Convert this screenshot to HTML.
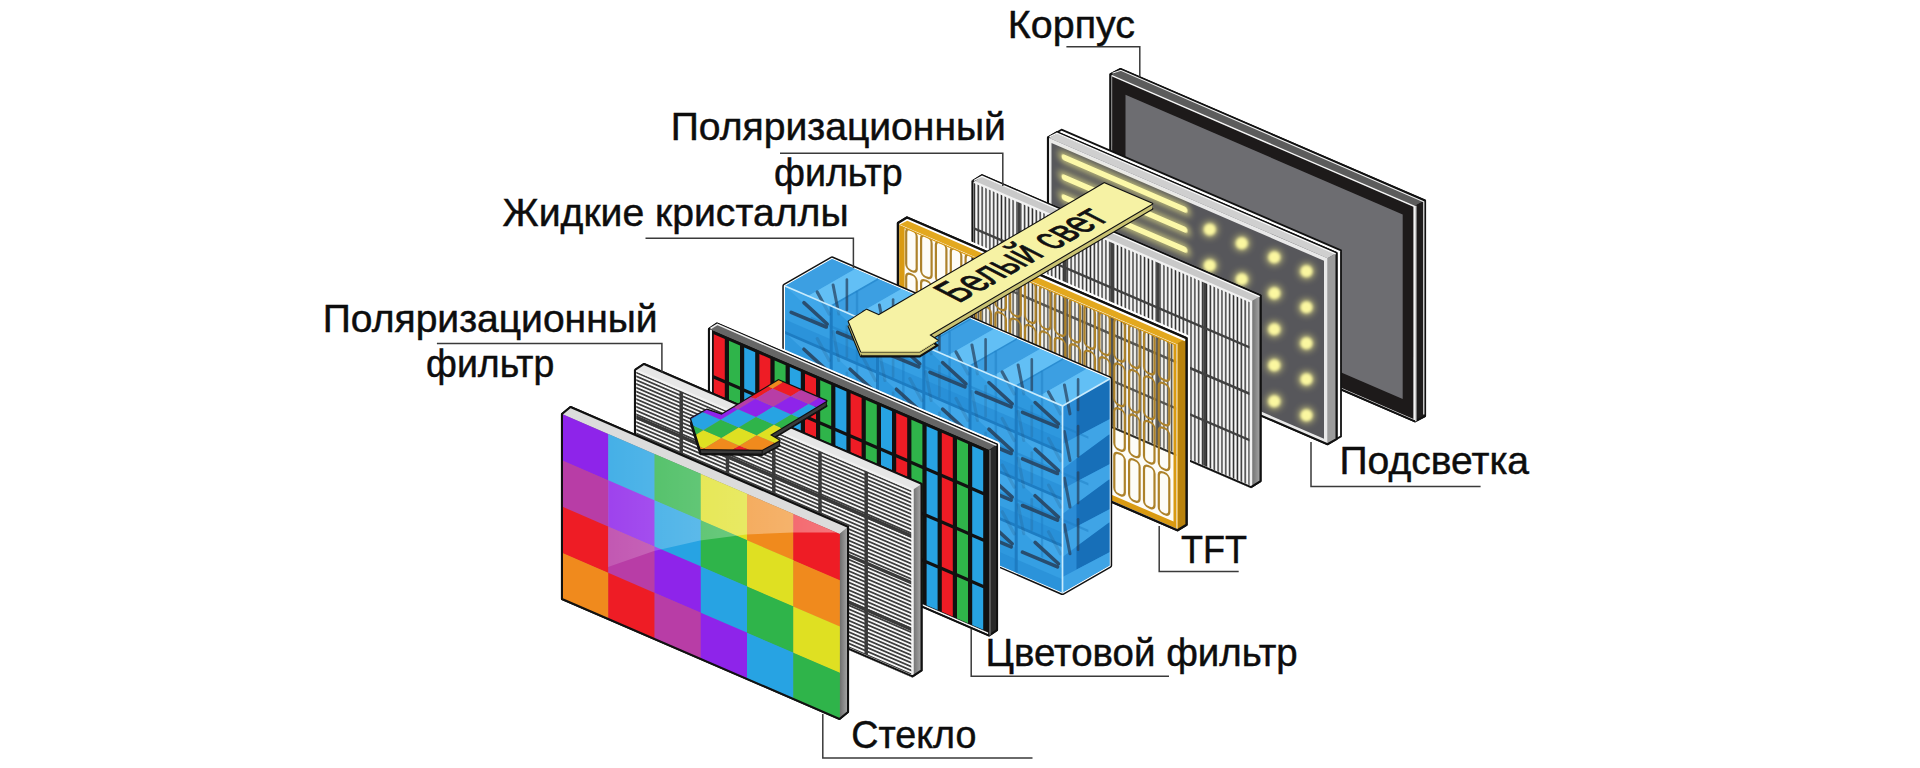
<!DOCTYPE html>
<html><head><meta charset="utf-8"><title>LCD</title>
<style>html,body{margin:0;padding:0;background:#fff;overflow:hidden}svg{display:block}text{font-family:"Liberation Sans",sans-serif}</style>
</head><body>
<svg width="1920" height="768" viewBox="0 0 1920 768">
<defs>
<filter id="glow" x="-50%" y="-50%" width="200%" height="200%"><feGaussianBlur stdDeviation="1.6"/></filter>
<filter id="glow05" x="-10%" y="-50%" width="120%" height="200%"><feGaussianBlur stdDeviation="0.7"/></filter>
<filter id="glow2" x="-50%" y="-50%" width="200%" height="200%"><feGaussianBlur stdDeviation="3"/></filter>
<linearGradient id="sideGray" x1="0" x2="1" y1="0" y2="0"><stop offset="0" stop-color="#6c6c6c"/><stop offset="1" stop-color="#a9a9a9"/></linearGradient>
<linearGradient id="glare" gradientUnits="userSpaceOnUse" x1="608" x2="838" y1="0" y2="0"><stop offset="0" stop-color="#fff" stop-opacity="0.14"/><stop offset="1" stop-color="#fff" stop-opacity="0.40"/></linearGradient>
<pattern id="hlines" width="10" height="3.8125" patternUnits="userSpaceOnUse"><rect width="10" height="3.8125" fill="#f6f6f6"/><rect y="1.1" width="10" height="1.6" fill="#1c1c1c"/></pattern>
<pattern id="vlines" width="3.868" height="10" patternUnits="userSpaceOnUse"><rect width="3.868" height="10" fill="#f7f7f7"/><rect x="1.2" width="1.4" height="10" fill="#262626"/></pattern>
<clipPath id="lcclip"><polygon points="785.0,472.5 785.0,286.0 832.0,259.0 1109.5,378.9 1109.5,565.4 1062.5,592.4"/></clipPath><clipPath id="lcfront"><polygon points="785.0,472.5 785.0,286.0 1062.5,405.9 1062.5,592.4"/></clipPath><clipPath id="lcts"><polygon points="785.0,286.0 832.0,259.0 1109.5,378.9 1109.5,565.4 1062.5,592.4 1062.5,405.9"/></clipPath><clipPath id="raclip"><polygon points="691.1,418.6 706.7,409.7 721.6,414.7 778.6,380.3 826.3,400.9 770.0,435.0 779.4,440.5 762.2,449.8 700.5,449.0"/></clipPath><clipPath id="glclip"><polygon points="562.0,414.0 839.5,533.9 839.5,718.9 562.0,599.0"/></clipPath></defs>
<rect width="1920" height="768" fill="#fff"/>
<polygon points="1110.5,289.8 1110.5,74.3 1120.5,69.1 1425.0,200.6 1425.0,416.1 1415.0,421.3" fill="#1d1a1a" stroke="#111" stroke-width="2.2" stroke-linejoin="round"/>
<polygon points="1110.5,74.3 1120.5,69.1 1425.0,200.6 1415.0,205.8" fill="#5c5c5c"/>
<polygon points="1415.0,205.8 1425.0,200.6 1425.0,416.1 1415.0,421.3" fill="#1e1c1c"/>
<g transform="matrix(1,0.432,0,1,1110.5,74.3)"><rect x="0" y="0" width="304.5" height="215.5" fill="#f4f4f4"/><rect x="1.6" y="1.6" width="301.3" height="212.3" fill="#1d1a1a"/><rect x="15" y="14" width="277.2" height="184.5" fill="#6d6d71"/></g>
<polygon points="1110.5,289.8 1110.5,74.3 1120.5,69.1 1425.0,200.6 1425.0,416.1 1415.0,421.3" fill="none" stroke="#111" stroke-width="2" stroke-linejoin="round"/>
<polyline points="1112.5,73.3 1120.8,70.3 1423.8,201.8 1423.8,414.6" fill="none" stroke="#f0f0f0" stroke-width="1.2"/>
<line x1="1415.8" y1="205.844" x2="1415.8" y2="421.344" stroke="#f0f0f0" stroke-width="1.3"/>
<polygon points="1057.0,132.3 1061.5,129.7 1341.0,250.4 1341.0,436.4 1336.5,439.0" fill="#fff" stroke="#111" stroke-width="1.8" stroke-linejoin="round"/>
<polygon points="1048.0,323.5 1048.0,137.5 1057.0,132.3 1336.5,253.0 1336.5,439.0 1327.5,444.2" fill="#57575b" stroke="#111" stroke-width="2.2" stroke-linejoin="round"/>
<polygon points="1048.0,137.5 1057.0,132.3 1336.5,253.0 1327.5,258.2" fill="#cfcfcf"/>
<polygon points="1327.5,258.2 1336.5,253.0 1336.5,439.0 1327.5,444.2" fill="#9c9c9c"/>
<g transform="matrix(1,0.432,0,1,1048,137.5)"><rect width="279.5" height="186" fill="#e9e9e9"/><rect x="3.5" y="4" width="272.5" height="178" fill="#57575b"/><rect x="10" y="7" width="133" height="12" rx="6" fill="#f3ee8a" opacity="0.6" filter="url(#glow2)"/><rect x="13.5" y="10" width="126" height="6" rx="3" fill="#fcf8a8" filter="url(#glow05)"/><rect x="10" y="27" width="133" height="12" rx="6" fill="#f3ee8a" opacity="0.6" filter="url(#glow2)"/><rect x="13.5" y="30" width="126" height="6" rx="3" fill="#fcf8a8" filter="url(#glow05)"/><rect x="10" y="47" width="133" height="12" rx="6" fill="#f3ee8a" opacity="0.6" filter="url(#glow2)"/><rect x="13.5" y="50" width="126" height="6" rx="3" fill="#fcf8a8" filter="url(#glow05)"/></g><circle cx="1209.8" cy="229.4" r="8.5" fill="#f3ee8a" opacity="0.55" filter="url(#glow2)"/><circle cx="1209.8" cy="229.4" r="6" fill="#fbf7a0" filter="url(#glow)"/><circle cx="1209.8" cy="265.4" r="8.5" fill="#f3ee8a" opacity="0.55" filter="url(#glow2)"/><circle cx="1209.8" cy="265.4" r="6" fill="#fbf7a0" filter="url(#glow)"/><circle cx="1209.8" cy="301.4" r="8.5" fill="#f3ee8a" opacity="0.55" filter="url(#glow2)"/><circle cx="1209.8" cy="301.4" r="6" fill="#fbf7a0" filter="url(#glow)"/><circle cx="1209.8" cy="337.4" r="8.5" fill="#f3ee8a" opacity="0.55" filter="url(#glow2)"/><circle cx="1209.8" cy="337.4" r="6" fill="#fbf7a0" filter="url(#glow)"/><circle cx="1209.8" cy="373.4" r="8.5" fill="#f3ee8a" opacity="0.55" filter="url(#glow2)"/><circle cx="1209.8" cy="373.4" r="6" fill="#fbf7a0" filter="url(#glow)"/><circle cx="1241.8" cy="243.2" r="8.5" fill="#f3ee8a" opacity="0.55" filter="url(#glow2)"/><circle cx="1241.8" cy="243.2" r="6" fill="#fbf7a0" filter="url(#glow)"/><circle cx="1241.8" cy="279.2" r="8.5" fill="#f3ee8a" opacity="0.55" filter="url(#glow2)"/><circle cx="1241.8" cy="279.2" r="6" fill="#fbf7a0" filter="url(#glow)"/><circle cx="1241.8" cy="315.2" r="8.5" fill="#f3ee8a" opacity="0.55" filter="url(#glow2)"/><circle cx="1241.8" cy="315.2" r="6" fill="#fbf7a0" filter="url(#glow)"/><circle cx="1241.8" cy="351.2" r="8.5" fill="#f3ee8a" opacity="0.55" filter="url(#glow2)"/><circle cx="1241.8" cy="351.2" r="6" fill="#fbf7a0" filter="url(#glow)"/><circle cx="1241.8" cy="387.2" r="8.5" fill="#f3ee8a" opacity="0.55" filter="url(#glow2)"/><circle cx="1241.8" cy="387.2" r="6" fill="#fbf7a0" filter="url(#glow)"/><circle cx="1274.3" cy="257.3" r="8.5" fill="#f3ee8a" opacity="0.55" filter="url(#glow2)"/><circle cx="1274.3" cy="257.3" r="6" fill="#fbf7a0" filter="url(#glow)"/><circle cx="1274.3" cy="293.3" r="8.5" fill="#f3ee8a" opacity="0.55" filter="url(#glow2)"/><circle cx="1274.3" cy="293.3" r="6" fill="#fbf7a0" filter="url(#glow)"/><circle cx="1274.3" cy="329.3" r="8.5" fill="#f3ee8a" opacity="0.55" filter="url(#glow2)"/><circle cx="1274.3" cy="329.3" r="6" fill="#fbf7a0" filter="url(#glow)"/><circle cx="1274.3" cy="365.3" r="8.5" fill="#f3ee8a" opacity="0.55" filter="url(#glow2)"/><circle cx="1274.3" cy="365.3" r="6" fill="#fbf7a0" filter="url(#glow)"/><circle cx="1274.3" cy="401.3" r="8.5" fill="#f3ee8a" opacity="0.55" filter="url(#glow2)"/><circle cx="1274.3" cy="401.3" r="6" fill="#fbf7a0" filter="url(#glow)"/><circle cx="1306.5" cy="271.2" r="8.5" fill="#f3ee8a" opacity="0.55" filter="url(#glow2)"/><circle cx="1306.5" cy="271.2" r="6" fill="#fbf7a0" filter="url(#glow)"/><circle cx="1306.5" cy="307.2" r="8.5" fill="#f3ee8a" opacity="0.55" filter="url(#glow2)"/><circle cx="1306.5" cy="307.2" r="6" fill="#fbf7a0" filter="url(#glow)"/><circle cx="1306.5" cy="343.2" r="8.5" fill="#f3ee8a" opacity="0.55" filter="url(#glow2)"/><circle cx="1306.5" cy="343.2" r="6" fill="#fbf7a0" filter="url(#glow)"/><circle cx="1306.5" cy="379.2" r="8.5" fill="#f3ee8a" opacity="0.55" filter="url(#glow2)"/><circle cx="1306.5" cy="379.2" r="6" fill="#fbf7a0" filter="url(#glow)"/><circle cx="1306.5" cy="415.2" r="8.5" fill="#f3ee8a" opacity="0.55" filter="url(#glow2)"/><circle cx="1306.5" cy="415.2" r="6" fill="#fbf7a0" filter="url(#glow)"/><g></g>
<polygon points="1048.0,323.5 1048.0,137.5 1057.0,132.3 1336.5,253.0 1336.5,439.0 1327.5,444.2" fill="none" stroke="#111" stroke-width="2" stroke-linejoin="round"/>
<polyline points="1049.5,136.9 1057.0,133.1 1335.7,253.8" fill="none" stroke="#fafafa" stroke-width="1.3"/>
<polygon points="972.5,366.8 972.5,181.3 982.0,175.3 1260.5,295.6 1260.5,481.1 1251.0,487.1" fill="#eee" stroke="#111" stroke-width="2.2" stroke-linejoin="round"/>
<polygon points="972.5,181.3 982.0,175.3 1260.5,295.6 1251.0,301.6" fill="#c9c9c9"/>
<polygon points="1251.0,301.6 1260.5,295.6 1260.5,481.1 1251.0,487.1" fill="url(#sideGray)"/>
<g transform="matrix(1,0.432,0,1,972.5,181.3)"><rect width="278.5" height="185.5" fill="url(#vlines)"/><line x1="46.4" y1="0" x2="46.4" y2="185.5" stroke="#404040" stroke-width="2.8"/><line x1="92.8" y1="0" x2="92.8" y2="185.5" stroke="#404040" stroke-width="2.8"/><line x1="139.2" y1="0" x2="139.2" y2="185.5" stroke="#404040" stroke-width="2.8"/><line x1="185.7" y1="0" x2="185.7" y2="185.5" stroke="#404040" stroke-width="2.8"/><line x1="232.1" y1="0" x2="232.1" y2="185.5" stroke="#404040" stroke-width="2.8"/><line x1="0" y1="46.4" x2="278.5" y2="46.4" stroke="#404040" stroke-width="2.6"/><line x1="0" y1="92.8" x2="278.5" y2="92.8" stroke="#404040" stroke-width="2.6"/><line x1="0" y1="139.1" x2="278.5" y2="139.1" stroke="#404040" stroke-width="2.6"/><rect width="278.5" height="185.5" fill="none" stroke="#f2f2f2" stroke-width="2.5"/></g>
<polygon points="972.5,366.8 972.5,181.3 982.0,175.3 1260.5,295.6 1260.5,481.1 1251.0,487.1" fill="none" stroke="#111" stroke-width="2" stroke-linejoin="round"/>
<polyline points="974.0,180.5 982.0,176.3 1259.7,296.6" fill="none" stroke="#fafafa" stroke-width="1.3"/>
<polygon points="898.0,409.5 898.0,223.0 907.0,217.5 1186.5,338.2 1186.5,524.7 1177.5,530.2" fill="none" stroke="#fff" stroke-width="7" stroke-linejoin="round"/>
<polygon points="898.0,409.5 898.0,223.0 907.0,217.5 1186.5,338.2 1186.5,524.7 1177.5,530.2" fill="none" stroke="#111" stroke-width="2.4" stroke-linejoin="round"/>
<g transform="matrix(1,0.432,0,1,898,223)"><rect x="0" y="0" width="279.5" height="186.5" fill="#f3e6c4" fill-opacity="0.13"/><rect x="8.2" y="1.0" width="10.5" height="41.1" rx="4.5" fill="none" stroke="#ad822a" stroke-width="2.2"/><rect x="23.1" y="1.0" width="10.5" height="41.1" rx="4.5" fill="none" stroke="#ad822a" stroke-width="2.2"/><rect x="37.9" y="1.0" width="10.5" height="41.1" rx="4.5" fill="none" stroke="#ad822a" stroke-width="2.2"/><rect x="52.8" y="1.0" width="10.5" height="41.1" rx="4.5" fill="none" stroke="#ad822a" stroke-width="2.2"/><rect x="67.6" y="1.0" width="10.5" height="41.1" rx="4.5" fill="none" stroke="#ad822a" stroke-width="2.2"/><rect x="82.5" y="1.0" width="10.5" height="41.1" rx="4.5" fill="none" stroke="#ad822a" stroke-width="2.2"/><rect x="97.4" y="1.0" width="10.5" height="41.1" rx="4.5" fill="none" stroke="#ad822a" stroke-width="2.2"/><rect x="112.2" y="1.0" width="10.5" height="41.1" rx="4.5" fill="none" stroke="#ad822a" stroke-width="2.2"/><rect x="127.1" y="1.0" width="10.5" height="41.1" rx="4.5" fill="none" stroke="#ad822a" stroke-width="2.2"/><rect x="141.9" y="1.0" width="10.5" height="41.1" rx="4.5" fill="none" stroke="#ad822a" stroke-width="2.2"/><rect x="156.8" y="1.0" width="10.5" height="41.1" rx="4.5" fill="none" stroke="#ad822a" stroke-width="2.2"/><rect x="171.7" y="1.0" width="10.5" height="41.1" rx="4.5" fill="none" stroke="#ad822a" stroke-width="2.2"/><rect x="186.5" y="1.0" width="10.5" height="41.1" rx="4.5" fill="none" stroke="#ad822a" stroke-width="2.2"/><rect x="201.4" y="1.0" width="10.5" height="41.1" rx="4.5" fill="none" stroke="#ad822a" stroke-width="2.2"/><rect x="216.3" y="1.0" width="10.5" height="41.1" rx="4.5" fill="none" stroke="#ad822a" stroke-width="2.2"/><rect x="231.1" y="1.0" width="10.5" height="41.1" rx="4.5" fill="none" stroke="#ad822a" stroke-width="2.2"/><rect x="246.0" y="1.0" width="10.5" height="41.1" rx="4.5" fill="none" stroke="#ad822a" stroke-width="2.2"/><rect x="260.8" y="1.0" width="10.5" height="41.1" rx="4.5" fill="none" stroke="#ad822a" stroke-width="2.2"/><rect x="8.2" y="45.6" width="10.5" height="41.1" rx="4.5" fill="none" stroke="#ad822a" stroke-width="2.2"/><rect x="23.1" y="45.6" width="10.5" height="41.1" rx="4.5" fill="none" stroke="#ad822a" stroke-width="2.2"/><rect x="37.9" y="45.6" width="10.5" height="41.1" rx="4.5" fill="none" stroke="#ad822a" stroke-width="2.2"/><rect x="52.8" y="45.6" width="10.5" height="41.1" rx="4.5" fill="none" stroke="#ad822a" stroke-width="2.2"/><rect x="67.6" y="45.6" width="10.5" height="41.1" rx="4.5" fill="none" stroke="#ad822a" stroke-width="2.2"/><rect x="82.5" y="45.6" width="10.5" height="41.1" rx="4.5" fill="none" stroke="#ad822a" stroke-width="2.2"/><rect x="97.4" y="45.6" width="10.5" height="41.1" rx="4.5" fill="none" stroke="#ad822a" stroke-width="2.2"/><rect x="112.2" y="45.6" width="10.5" height="41.1" rx="4.5" fill="none" stroke="#ad822a" stroke-width="2.2"/><rect x="127.1" y="45.6" width="10.5" height="41.1" rx="4.5" fill="none" stroke="#ad822a" stroke-width="2.2"/><rect x="141.9" y="45.6" width="10.5" height="41.1" rx="4.5" fill="none" stroke="#ad822a" stroke-width="2.2"/><rect x="156.8" y="45.6" width="10.5" height="41.1" rx="4.5" fill="none" stroke="#ad822a" stroke-width="2.2"/><rect x="171.7" y="45.6" width="10.5" height="41.1" rx="4.5" fill="none" stroke="#ad822a" stroke-width="2.2"/><rect x="186.5" y="45.6" width="10.5" height="41.1" rx="4.5" fill="none" stroke="#ad822a" stroke-width="2.2"/><rect x="201.4" y="45.6" width="10.5" height="41.1" rx="4.5" fill="none" stroke="#ad822a" stroke-width="2.2"/><rect x="216.3" y="45.6" width="10.5" height="41.1" rx="4.5" fill="none" stroke="#ad822a" stroke-width="2.2"/><rect x="231.1" y="45.6" width="10.5" height="41.1" rx="4.5" fill="none" stroke="#ad822a" stroke-width="2.2"/><rect x="246.0" y="45.6" width="10.5" height="41.1" rx="4.5" fill="none" stroke="#ad822a" stroke-width="2.2"/><rect x="260.8" y="45.6" width="10.5" height="41.1" rx="4.5" fill="none" stroke="#ad822a" stroke-width="2.2"/><rect x="8.2" y="90.2" width="10.5" height="41.1" rx="4.5" fill="none" stroke="#ad822a" stroke-width="2.2"/><rect x="23.1" y="90.2" width="10.5" height="41.1" rx="4.5" fill="none" stroke="#ad822a" stroke-width="2.2"/><rect x="37.9" y="90.2" width="10.5" height="41.1" rx="4.5" fill="none" stroke="#ad822a" stroke-width="2.2"/><rect x="52.8" y="90.2" width="10.5" height="41.1" rx="4.5" fill="none" stroke="#ad822a" stroke-width="2.2"/><rect x="67.6" y="90.2" width="10.5" height="41.1" rx="4.5" fill="none" stroke="#ad822a" stroke-width="2.2"/><rect x="82.5" y="90.2" width="10.5" height="41.1" rx="4.5" fill="none" stroke="#ad822a" stroke-width="2.2"/><rect x="97.4" y="90.2" width="10.5" height="41.1" rx="4.5" fill="none" stroke="#ad822a" stroke-width="2.2"/><rect x="112.2" y="90.2" width="10.5" height="41.1" rx="4.5" fill="none" stroke="#ad822a" stroke-width="2.2"/><rect x="127.1" y="90.2" width="10.5" height="41.1" rx="4.5" fill="none" stroke="#ad822a" stroke-width="2.2"/><rect x="141.9" y="90.2" width="10.5" height="41.1" rx="4.5" fill="none" stroke="#ad822a" stroke-width="2.2"/><rect x="156.8" y="90.2" width="10.5" height="41.1" rx="4.5" fill="none" stroke="#ad822a" stroke-width="2.2"/><rect x="171.7" y="90.2" width="10.5" height="41.1" rx="4.5" fill="none" stroke="#ad822a" stroke-width="2.2"/><rect x="186.5" y="90.2" width="10.5" height="41.1" rx="4.5" fill="none" stroke="#ad822a" stroke-width="2.2"/><rect x="201.4" y="90.2" width="10.5" height="41.1" rx="4.5" fill="none" stroke="#ad822a" stroke-width="2.2"/><rect x="216.3" y="90.2" width="10.5" height="41.1" rx="4.5" fill="none" stroke="#ad822a" stroke-width="2.2"/><rect x="231.1" y="90.2" width="10.5" height="41.1" rx="4.5" fill="none" stroke="#ad822a" stroke-width="2.2"/><rect x="246.0" y="90.2" width="10.5" height="41.1" rx="4.5" fill="none" stroke="#ad822a" stroke-width="2.2"/><rect x="260.8" y="90.2" width="10.5" height="41.1" rx="4.5" fill="none" stroke="#ad822a" stroke-width="2.2"/><rect x="8.2" y="134.9" width="10.5" height="41.1" rx="4.5" fill="none" stroke="#ad822a" stroke-width="2.2"/><rect x="23.1" y="134.9" width="10.5" height="41.1" rx="4.5" fill="none" stroke="#ad822a" stroke-width="2.2"/><rect x="37.9" y="134.9" width="10.5" height="41.1" rx="4.5" fill="none" stroke="#ad822a" stroke-width="2.2"/><rect x="52.8" y="134.9" width="10.5" height="41.1" rx="4.5" fill="none" stroke="#ad822a" stroke-width="2.2"/><rect x="67.6" y="134.9" width="10.5" height="41.1" rx="4.5" fill="none" stroke="#ad822a" stroke-width="2.2"/><rect x="82.5" y="134.9" width="10.5" height="41.1" rx="4.5" fill="none" stroke="#ad822a" stroke-width="2.2"/><rect x="97.4" y="134.9" width="10.5" height="41.1" rx="4.5" fill="none" stroke="#ad822a" stroke-width="2.2"/><rect x="112.2" y="134.9" width="10.5" height="41.1" rx="4.5" fill="none" stroke="#ad822a" stroke-width="2.2"/><rect x="127.1" y="134.9" width="10.5" height="41.1" rx="4.5" fill="none" stroke="#ad822a" stroke-width="2.2"/><rect x="141.9" y="134.9" width="10.5" height="41.1" rx="4.5" fill="none" stroke="#ad822a" stroke-width="2.2"/><rect x="156.8" y="134.9" width="10.5" height="41.1" rx="4.5" fill="none" stroke="#ad822a" stroke-width="2.2"/><rect x="171.7" y="134.9" width="10.5" height="41.1" rx="4.5" fill="none" stroke="#ad822a" stroke-width="2.2"/><rect x="186.5" y="134.9" width="10.5" height="41.1" rx="4.5" fill="none" stroke="#ad822a" stroke-width="2.2"/><rect x="201.4" y="134.9" width="10.5" height="41.1" rx="4.5" fill="none" stroke="#ad822a" stroke-width="2.2"/><rect x="216.3" y="134.9" width="10.5" height="41.1" rx="4.5" fill="none" stroke="#ad822a" stroke-width="2.2"/><rect x="231.1" y="134.9" width="10.5" height="41.1" rx="4.5" fill="none" stroke="#ad822a" stroke-width="2.2"/><rect x="246.0" y="134.9" width="10.5" height="41.1" rx="4.5" fill="none" stroke="#ad822a" stroke-width="2.2"/><rect x="260.8" y="134.9" width="10.5" height="41.1" rx="4.5" fill="none" stroke="#ad822a" stroke-width="2.2"/><rect x="1" y="1" width="5.6" height="184.5" fill="#d99a12"/><rect x="275.5" y="1" width="3" height="184.5" fill="#d99a12"/><rect x="1" y="179.5" width="277.5" height="6" fill="#d99a12"/><rect x="1" y="1" width="277.5" height="1.6" fill="#d99a12"/><rect x="0.6" y="0.6" width="278.3" height="185.3" fill="none" stroke="#fff" stroke-width="1.2"/></g>
<polygon points="898.0,223.8 907.0,217.5 1186.5,338.2 1177.5,344.5" fill="#e3a81e"/>
<polygon points="1176.7,343.7 1186.5,338.2 1186.5,524.7 1176.7,530.2" fill="#b9820c"/>
<line x1="1177.5" y1="343.744" x2="1177.5" y2="530.244" stroke="#f0c050" stroke-width="1"/>
<polyline points="899.2,223.3 907.3,219.5 1185.5,340.2" fill="none" stroke="#fff" stroke-width="2.4"/>
<polygon points="898.0,409.5 898.0,223.0 907.0,217.5 1186.5,338.2 1186.5,524.7 1177.5,530.2" fill="none" stroke="#111" stroke-width="2.2" stroke-linejoin="round"/>
<polygon points="785.0,472.5 785.0,286.0 832.0,259.0 1109.5,378.9 1109.5,565.4 1062.5,592.4" fill="#2f9be0" stroke="#111" stroke-width="5.4" stroke-linejoin="round"/>
<polygon points="785.0,472.5 785.0,286.0 832.0,259.0 1109.5,378.9 1109.5,565.4 1062.5,592.4" fill="#2f9be0" stroke="#fff" stroke-width="2.4" stroke-linejoin="round"/>
<polygon points="785.0,286.0 832.0,259.0 1109.5,378.9 1062.5,405.9" fill="#4fb2ee"/>
<polygon points="785.0,286.0 832.0,259.0 855.1,269.0 808.1,296.0" fill="#3c9fe2"/>
<polygon points="808.1,296.0 855.1,269.0 878.2,279.0 831.2,306.0" fill="#62bff5"/>
<polygon points="831.2,306.0 878.2,279.0 901.4,289.0 854.4,316.0" fill="#3c9fe2"/>
<polygon points="854.4,316.0 901.4,289.0 924.5,299.0 877.5,326.0" fill="#62bff5"/>
<polygon points="877.5,326.0 924.5,299.0 947.6,308.9 900.6,335.9" fill="#3c9fe2"/>
<polygon points="900.6,335.9 947.6,308.9 970.8,318.9 923.8,345.9" fill="#62bff5"/>
<polygon points="923.8,345.9 970.8,318.9 993.9,328.9 946.9,355.9" fill="#3c9fe2"/>
<polygon points="946.9,355.9 993.9,328.9 1017.0,338.9 970.0,365.9" fill="#62bff5"/>
<polygon points="970.0,365.9 1017.0,338.9 1040.1,348.9 993.1,375.9" fill="#3c9fe2"/>
<polygon points="993.1,375.9 1040.1,348.9 1063.2,358.9 1016.2,385.9" fill="#62bff5"/>
<polygon points="1016.2,385.9 1063.2,358.9 1086.4,368.9 1039.4,395.9" fill="#3c9fe2"/>
<polygon points="1039.4,395.9 1086.4,368.9 1109.5,378.9 1062.5,405.9" fill="#62bff5"/>
<line x1="831.2" y1="306.0" x2="878.2" y2="279.0" stroke="#2a8dd2" stroke-width="1.6"/>
<line x1="877.5" y1="326.0" x2="924.5" y2="299.0" stroke="#2a8dd2" stroke-width="1.6"/>
<line x1="923.8" y1="345.9" x2="970.8" y2="318.9" stroke="#2a8dd2" stroke-width="1.6"/>
<line x1="970.0" y1="365.9" x2="1017.0" y2="338.9" stroke="#2a8dd2" stroke-width="1.6"/>
<line x1="1016.2" y1="385.9" x2="1063.2" y2="358.9" stroke="#2a8dd2" stroke-width="1.6"/>
<polygon points="1062.5,405.9 1109.5,378.9 1109.5,565.4 1062.5,592.4" fill="#2a8cd6"/>
<polygon points="1076.5,397.8 1109.5,378.9 1109.5,419.3 1076.5,436.6" fill="#176fb8"/>
<polygon points="1062.5,443.9 1109.5,419.3 1109.5,434.3 1062.5,468.9" fill="#3fa4e6"/>
<polygon points="1076.5,458.6 1109.5,434.3 1109.5,464.3 1076.5,481.6" fill="#176fb8"/>
<polygon points="1062.5,488.9 1109.5,464.3 1109.5,479.3 1062.5,513.9" fill="#3fa4e6"/>
<polygon points="1076.5,503.6 1109.5,479.3 1109.5,509.3 1076.5,526.6" fill="#176fb8"/>
<polygon points="1062.5,533.9 1109.5,509.3 1109.5,522.3 1062.5,556.9" fill="#3fa4e6"/>
<polygon points="1076.5,546.6 1109.5,522.3 1109.5,552.3 1076.5,569.6" fill="#176fb8"/>
<polygon points="1062.5,576.9 1109.5,552.3 1109.5,565.4 1062.5,592.4" fill="#3fa4e6"/>
<g transform="matrix(1,0.432,0,1,785,286)"><rect x="0.0" y="0.0" width="46.5" height="46.9" fill="#359fe3"/><polygon points="0.0,0.0 46.2,0.0 46.2,23.3" fill="#4db1ef" opacity="0.45"/><rect x="0.0" y="33.6" width="46.2" height="13.1" fill="#2287d2" opacity="0.5"/><rect x="46.2" y="0.0" width="46.5" height="46.9" fill="#2e98de"/><polygon points="46.2,0.0 92.5,0.0 92.5,23.3" fill="#4db1ef" opacity="0.45"/><rect x="46.2" y="33.6" width="46.2" height="13.1" fill="#2287d2" opacity="0.5"/><rect x="92.5" y="0.0" width="46.5" height="46.9" fill="#359fe3"/><polygon points="92.5,0.0 138.8,0.0 138.8,23.3" fill="#4db1ef" opacity="0.45"/><rect x="92.5" y="33.6" width="46.2" height="13.1" fill="#2287d2" opacity="0.5"/><rect x="138.8" y="0.0" width="46.5" height="46.9" fill="#2e98de"/><polygon points="138.8,0.0 185.0,0.0 185.0,23.3" fill="#4db1ef" opacity="0.45"/><rect x="138.8" y="33.6" width="46.2" height="13.1" fill="#2287d2" opacity="0.5"/><rect x="185.0" y="0.0" width="46.5" height="46.9" fill="#359fe3"/><polygon points="185.0,0.0 231.2,0.0 231.2,23.3" fill="#4db1ef" opacity="0.45"/><rect x="185.0" y="33.6" width="46.2" height="13.1" fill="#2287d2" opacity="0.5"/><rect x="231.2" y="0.0" width="46.5" height="46.9" fill="#2e98de"/><polygon points="231.2,0.0 277.5,0.0 277.5,23.3" fill="#4db1ef" opacity="0.45"/><rect x="231.2" y="33.6" width="46.2" height="13.1" fill="#2287d2" opacity="0.5"/><rect x="0.0" y="46.6" width="46.5" height="46.9" fill="#2e98de"/><polygon points="0.0,46.6 46.2,46.6 46.2,69.9" fill="#4db1ef" opacity="0.45"/><rect x="0.0" y="80.2" width="46.2" height="13.1" fill="#2287d2" opacity="0.5"/><rect x="46.2" y="46.6" width="46.5" height="46.9" fill="#359fe3"/><polygon points="46.2,46.6 92.5,46.6 92.5,69.9" fill="#4db1ef" opacity="0.45"/><rect x="46.2" y="80.2" width="46.2" height="13.1" fill="#2287d2" opacity="0.5"/><rect x="92.5" y="46.6" width="46.5" height="46.9" fill="#2e98de"/><polygon points="92.5,46.6 138.8,46.6 138.8,69.9" fill="#4db1ef" opacity="0.45"/><rect x="92.5" y="80.2" width="46.2" height="13.1" fill="#2287d2" opacity="0.5"/><rect x="138.8" y="46.6" width="46.5" height="46.9" fill="#359fe3"/><polygon points="138.8,46.6 185.0,46.6 185.0,69.9" fill="#4db1ef" opacity="0.45"/><rect x="138.8" y="80.2" width="46.2" height="13.1" fill="#2287d2" opacity="0.5"/><rect x="185.0" y="46.6" width="46.5" height="46.9" fill="#2e98de"/><polygon points="185.0,46.6 231.2,46.6 231.2,69.9" fill="#4db1ef" opacity="0.45"/><rect x="185.0" y="80.2" width="46.2" height="13.1" fill="#2287d2" opacity="0.5"/><rect x="231.2" y="46.6" width="46.5" height="46.9" fill="#359fe3"/><polygon points="231.2,46.6 277.5,46.6 277.5,69.9" fill="#4db1ef" opacity="0.45"/><rect x="231.2" y="80.2" width="46.2" height="13.1" fill="#2287d2" opacity="0.5"/><rect x="0.0" y="93.2" width="46.5" height="46.9" fill="#359fe3"/><polygon points="0.0,93.2 46.2,93.2 46.2,116.6" fill="#4db1ef" opacity="0.45"/><rect x="0.0" y="126.8" width="46.2" height="13.1" fill="#2287d2" opacity="0.5"/><rect x="46.2" y="93.2" width="46.5" height="46.9" fill="#2e98de"/><polygon points="46.2,93.2 92.5,93.2 92.5,116.6" fill="#4db1ef" opacity="0.45"/><rect x="46.2" y="126.8" width="46.2" height="13.1" fill="#2287d2" opacity="0.5"/><rect x="92.5" y="93.2" width="46.5" height="46.9" fill="#359fe3"/><polygon points="92.5,93.2 138.8,93.2 138.8,116.6" fill="#4db1ef" opacity="0.45"/><rect x="92.5" y="126.8" width="46.2" height="13.1" fill="#2287d2" opacity="0.5"/><rect x="138.8" y="93.2" width="46.5" height="46.9" fill="#2e98de"/><polygon points="138.8,93.2 185.0,93.2 185.0,116.6" fill="#4db1ef" opacity="0.45"/><rect x="138.8" y="126.8" width="46.2" height="13.1" fill="#2287d2" opacity="0.5"/><rect x="185.0" y="93.2" width="46.5" height="46.9" fill="#359fe3"/><polygon points="185.0,93.2 231.2,93.2 231.2,116.6" fill="#4db1ef" opacity="0.45"/><rect x="185.0" y="126.8" width="46.2" height="13.1" fill="#2287d2" opacity="0.5"/><rect x="231.2" y="93.2" width="46.5" height="46.9" fill="#2e98de"/><polygon points="231.2,93.2 277.5,93.2 277.5,116.6" fill="#4db1ef" opacity="0.45"/><rect x="231.2" y="126.8" width="46.2" height="13.1" fill="#2287d2" opacity="0.5"/><rect x="0.0" y="139.9" width="46.5" height="46.9" fill="#2e98de"/><polygon points="0.0,139.9 46.2,139.9 46.2,163.2" fill="#4db1ef" opacity="0.45"/><rect x="0.0" y="173.4" width="46.2" height="13.1" fill="#2287d2" opacity="0.5"/><rect x="46.2" y="139.9" width="46.5" height="46.9" fill="#359fe3"/><polygon points="46.2,139.9 92.5,139.9 92.5,163.2" fill="#4db1ef" opacity="0.45"/><rect x="46.2" y="173.4" width="46.2" height="13.1" fill="#2287d2" opacity="0.5"/><rect x="92.5" y="139.9" width="46.5" height="46.9" fill="#2e98de"/><polygon points="92.5,139.9 138.8,139.9 138.8,163.2" fill="#4db1ef" opacity="0.45"/><rect x="92.5" y="173.4" width="46.2" height="13.1" fill="#2287d2" opacity="0.5"/><rect x="138.8" y="139.9" width="46.5" height="46.9" fill="#359fe3"/><polygon points="138.8,139.9 185.0,139.9 185.0,163.2" fill="#4db1ef" opacity="0.45"/><rect x="138.8" y="173.4" width="46.2" height="13.1" fill="#2287d2" opacity="0.5"/><rect x="185.0" y="139.9" width="46.5" height="46.9" fill="#2e98de"/><polygon points="185.0,139.9 231.2,139.9 231.2,163.2" fill="#4db1ef" opacity="0.45"/><rect x="185.0" y="173.4" width="46.2" height="13.1" fill="#2287d2" opacity="0.5"/><rect x="231.2" y="139.9" width="46.5" height="46.9" fill="#359fe3"/><polygon points="231.2,139.9 277.5,139.9 277.5,163.2" fill="#4db1ef" opacity="0.45"/><rect x="231.2" y="173.4" width="46.2" height="13.1" fill="#2287d2" opacity="0.5"/><line x1="46.2" y1="0" x2="46.2" y2="186.5" stroke="#1d7cc2" stroke-width="3"/><line x1="92.5" y1="0" x2="92.5" y2="186.5" stroke="#1d7cc2" stroke-width="3"/><line x1="138.8" y1="0" x2="138.8" y2="186.5" stroke="#1d7cc2" stroke-width="3"/><line x1="185.0" y1="0" x2="185.0" y2="186.5" stroke="#1d7cc2" stroke-width="3"/><line x1="231.2" y1="0" x2="231.2" y2="186.5" stroke="#1d7cc2" stroke-width="3"/><line x1="0" y1="46.6" x2="277.5" y2="46.6" stroke="#1d7cc2" stroke-width="3"/><line x1="0" y1="93.2" x2="277.5" y2="93.2" stroke="#1d7cc2" stroke-width="3"/><line x1="0" y1="139.9" x2="277.5" y2="139.9" stroke="#1d7cc2" stroke-width="3"/></g>
<g clip-path="url(#lcclip)"><g transform="matrix(1,0.432,0,1,810.85,271.15)"><line x1="46.2" y1="0" x2="46.2" y2="186.5" stroke="#1d7cc2" stroke-width="2.4" opacity="0.45"/><line x1="92.5" y1="0" x2="92.5" y2="186.5" stroke="#1d7cc2" stroke-width="2.4" opacity="0.45"/><line x1="138.8" y1="0" x2="138.8" y2="186.5" stroke="#1d7cc2" stroke-width="2.4" opacity="0.45"/><line x1="185.0" y1="0" x2="185.0" y2="186.5" stroke="#1d7cc2" stroke-width="2.4" opacity="0.45"/><line x1="231.2" y1="0" x2="231.2" y2="186.5" stroke="#1d7cc2" stroke-width="2.4" opacity="0.45"/><line x1="0" y1="46.6" x2="277.5" y2="46.6" stroke="#1d7cc2" stroke-width="2.4" opacity="0.45"/><line x1="0" y1="93.2" x2="277.5" y2="93.2" stroke="#1d7cc2" stroke-width="2.4" opacity="0.45"/><line x1="0" y1="139.9" x2="277.5" y2="139.9" stroke="#1d7cc2" stroke-width="2.4" opacity="0.45"/></g></g>
<g clip-path="url(#lcclip)" opacity="0.88"><line x1="826.2" y1="327.0" x2="791.2" y2="312.4" stroke="#27425f" stroke-width="3.6" stroke-linecap="round"/><line x1="827.2" y1="324.0" x2="803.9" y2="302.6" stroke="#27425f" stroke-width="3.5" stroke-linecap="round"/><line x1="872.5" y1="347.0" x2="837.5" y2="332.4" stroke="#27425f" stroke-width="3.6" stroke-linecap="round"/><line x1="873.5" y1="344.0" x2="850.1" y2="322.6" stroke="#27425f" stroke-width="3.5" stroke-linecap="round"/><line x1="918.8" y1="366.9" x2="883.8" y2="352.3" stroke="#27425f" stroke-width="3.6" stroke-linecap="round"/><line x1="919.8" y1="363.9" x2="896.4" y2="342.5" stroke="#27425f" stroke-width="3.5" stroke-linecap="round"/><line x1="965.0" y1="386.9" x2="930.0" y2="372.3" stroke="#27425f" stroke-width="3.6" stroke-linecap="round"/><line x1="966.0" y1="383.9" x2="942.6" y2="362.5" stroke="#27425f" stroke-width="3.5" stroke-linecap="round"/><line x1="1011.2" y1="406.9" x2="976.2" y2="392.3" stroke="#27425f" stroke-width="3.6" stroke-linecap="round"/><line x1="1012.2" y1="403.9" x2="988.9" y2="382.5" stroke="#27425f" stroke-width="3.5" stroke-linecap="round"/><line x1="1057.5" y1="426.9" x2="1022.5" y2="412.3" stroke="#27425f" stroke-width="3.6" stroke-linecap="round"/><line x1="1058.5" y1="423.9" x2="1035.1" y2="402.5" stroke="#27425f" stroke-width="3.5" stroke-linecap="round"/><line x1="826.2" y1="373.6" x2="791.2" y2="359.0" stroke="#27425f" stroke-width="3.6" stroke-linecap="round"/><line x1="827.2" y1="370.6" x2="803.9" y2="349.2" stroke="#27425f" stroke-width="3.5" stroke-linecap="round"/><line x1="872.5" y1="393.6" x2="837.5" y2="379.0" stroke="#27425f" stroke-width="3.6" stroke-linecap="round"/><line x1="873.5" y1="390.6" x2="850.1" y2="369.2" stroke="#27425f" stroke-width="3.5" stroke-linecap="round"/><line x1="918.8" y1="413.6" x2="883.8" y2="399.0" stroke="#27425f" stroke-width="3.6" stroke-linecap="round"/><line x1="919.8" y1="410.6" x2="896.4" y2="389.2" stroke="#27425f" stroke-width="3.5" stroke-linecap="round"/><line x1="965.0" y1="433.5" x2="930.0" y2="418.9" stroke="#27425f" stroke-width="3.6" stroke-linecap="round"/><line x1="966.0" y1="430.5" x2="942.6" y2="409.1" stroke="#27425f" stroke-width="3.5" stroke-linecap="round"/><line x1="1011.2" y1="453.5" x2="976.2" y2="438.9" stroke="#27425f" stroke-width="3.6" stroke-linecap="round"/><line x1="1012.2" y1="450.5" x2="988.9" y2="429.1" stroke="#27425f" stroke-width="3.5" stroke-linecap="round"/><line x1="1057.5" y1="473.5" x2="1022.5" y2="458.9" stroke="#27425f" stroke-width="3.6" stroke-linecap="round"/><line x1="1058.5" y1="470.5" x2="1035.1" y2="449.1" stroke="#27425f" stroke-width="3.5" stroke-linecap="round"/><line x1="826.2" y1="420.2" x2="791.2" y2="405.6" stroke="#27425f" stroke-width="3.6" stroke-linecap="round"/><line x1="827.2" y1="417.2" x2="803.9" y2="395.8" stroke="#27425f" stroke-width="3.5" stroke-linecap="round"/><line x1="872.5" y1="440.2" x2="837.5" y2="425.6" stroke="#27425f" stroke-width="3.6" stroke-linecap="round"/><line x1="873.5" y1="437.2" x2="850.1" y2="415.8" stroke="#27425f" stroke-width="3.5" stroke-linecap="round"/><line x1="918.8" y1="460.2" x2="883.8" y2="445.6" stroke="#27425f" stroke-width="3.6" stroke-linecap="round"/><line x1="919.8" y1="457.2" x2="896.4" y2="435.8" stroke="#27425f" stroke-width="3.5" stroke-linecap="round"/><line x1="965.0" y1="480.2" x2="930.0" y2="465.6" stroke="#27425f" stroke-width="3.6" stroke-linecap="round"/><line x1="966.0" y1="477.2" x2="942.6" y2="455.8" stroke="#27425f" stroke-width="3.5" stroke-linecap="round"/><line x1="1011.2" y1="500.1" x2="976.2" y2="485.5" stroke="#27425f" stroke-width="3.6" stroke-linecap="round"/><line x1="1012.2" y1="497.1" x2="988.9" y2="475.8" stroke="#27425f" stroke-width="3.5" stroke-linecap="round"/><line x1="1057.5" y1="520.1" x2="1022.5" y2="505.5" stroke="#27425f" stroke-width="3.6" stroke-linecap="round"/><line x1="1058.5" y1="517.1" x2="1035.1" y2="495.7" stroke="#27425f" stroke-width="3.5" stroke-linecap="round"/><line x1="826.2" y1="466.9" x2="791.2" y2="452.3" stroke="#27425f" stroke-width="3.6" stroke-linecap="round"/><line x1="827.2" y1="463.9" x2="803.9" y2="442.5" stroke="#27425f" stroke-width="3.5" stroke-linecap="round"/><line x1="872.5" y1="486.8" x2="837.5" y2="472.2" stroke="#27425f" stroke-width="3.6" stroke-linecap="round"/><line x1="873.5" y1="483.8" x2="850.1" y2="462.4" stroke="#27425f" stroke-width="3.5" stroke-linecap="round"/><line x1="918.8" y1="506.8" x2="883.8" y2="492.2" stroke="#27425f" stroke-width="3.6" stroke-linecap="round"/><line x1="919.8" y1="503.8" x2="896.4" y2="482.4" stroke="#27425f" stroke-width="3.5" stroke-linecap="round"/><line x1="965.0" y1="526.8" x2="930.0" y2="512.2" stroke="#27425f" stroke-width="3.6" stroke-linecap="round"/><line x1="966.0" y1="523.8" x2="942.6" y2="502.4" stroke="#27425f" stroke-width="3.5" stroke-linecap="round"/><line x1="1011.2" y1="546.8" x2="976.2" y2="532.2" stroke="#27425f" stroke-width="3.6" stroke-linecap="round"/><line x1="1012.2" y1="543.8" x2="988.9" y2="522.4" stroke="#27425f" stroke-width="3.5" stroke-linecap="round"/><line x1="1057.5" y1="566.8" x2="1022.5" y2="552.2" stroke="#27425f" stroke-width="3.6" stroke-linecap="round"/><line x1="1058.5" y1="563.8" x2="1035.1" y2="542.4" stroke="#27425f" stroke-width="3.5" stroke-linecap="round"/></g>
<g clip-path="url(#lcfront)" opacity="0.17"><line x1="829.2" y1="314.0" x2="817.2" y2="292.0" stroke="#27425f" stroke-width="3.2" stroke-linecap="round"/><line x1="838.8" y1="314.0" x2="833.1" y2="285.0" stroke="#27425f" stroke-width="3.0" stroke-linecap="round"/><line x1="846.9" y1="310.0" x2="846.9" y2="279.5" stroke="#27425f" stroke-width="2.6" stroke-linecap="round"/><line x1="875.5" y1="334.0" x2="863.5" y2="312.0" stroke="#27425f" stroke-width="3.2" stroke-linecap="round"/><line x1="885.0" y1="334.0" x2="879.4" y2="305.0" stroke="#27425f" stroke-width="3.0" stroke-linecap="round"/><line x1="893.1" y1="330.0" x2="893.1" y2="299.5" stroke="#27425f" stroke-width="2.6" stroke-linecap="round"/><line x1="921.8" y1="353.9" x2="909.8" y2="331.9" stroke="#27425f" stroke-width="3.2" stroke-linecap="round"/><line x1="931.2" y1="353.9" x2="925.6" y2="324.9" stroke="#27425f" stroke-width="3.0" stroke-linecap="round"/><line x1="939.4" y1="349.9" x2="939.4" y2="319.4" stroke="#27425f" stroke-width="2.6" stroke-linecap="round"/><line x1="968.0" y1="373.9" x2="956.0" y2="351.9" stroke="#27425f" stroke-width="3.2" stroke-linecap="round"/><line x1="977.5" y1="373.9" x2="971.9" y2="344.9" stroke="#27425f" stroke-width="3.0" stroke-linecap="round"/><line x1="985.6" y1="369.9" x2="985.6" y2="339.4" stroke="#27425f" stroke-width="2.6" stroke-linecap="round"/><line x1="1014.2" y1="393.9" x2="1002.2" y2="371.9" stroke="#27425f" stroke-width="3.2" stroke-linecap="round"/><line x1="1023.8" y1="393.9" x2="1018.1" y2="364.9" stroke="#27425f" stroke-width="3.0" stroke-linecap="round"/><line x1="1031.8" y1="389.9" x2="1031.8" y2="359.4" stroke="#27425f" stroke-width="2.6" stroke-linecap="round"/><line x1="1060.5" y1="413.9" x2="1048.5" y2="391.9" stroke="#27425f" stroke-width="3.2" stroke-linecap="round"/><line x1="1070.0" y1="413.9" x2="1064.4" y2="384.9" stroke="#27425f" stroke-width="3.0" stroke-linecap="round"/><line x1="1078.1" y1="409.9" x2="1078.1" y2="379.4" stroke="#27425f" stroke-width="2.6" stroke-linecap="round"/><line x1="829.2" y1="360.6" x2="817.2" y2="338.6" stroke="#27425f" stroke-width="3.2" stroke-linecap="round"/><line x1="838.8" y1="360.6" x2="833.1" y2="331.6" stroke="#27425f" stroke-width="3.0" stroke-linecap="round"/><line x1="846.9" y1="356.6" x2="846.9" y2="326.1" stroke="#27425f" stroke-width="2.6" stroke-linecap="round"/><line x1="875.5" y1="380.6" x2="863.5" y2="358.6" stroke="#27425f" stroke-width="3.2" stroke-linecap="round"/><line x1="885.0" y1="380.6" x2="879.4" y2="351.6" stroke="#27425f" stroke-width="3.0" stroke-linecap="round"/><line x1="893.1" y1="376.6" x2="893.1" y2="346.1" stroke="#27425f" stroke-width="2.6" stroke-linecap="round"/><line x1="921.8" y1="400.6" x2="909.8" y2="378.6" stroke="#27425f" stroke-width="3.2" stroke-linecap="round"/><line x1="931.2" y1="400.6" x2="925.6" y2="371.6" stroke="#27425f" stroke-width="3.0" stroke-linecap="round"/><line x1="939.4" y1="396.6" x2="939.4" y2="366.1" stroke="#27425f" stroke-width="2.6" stroke-linecap="round"/><line x1="968.0" y1="420.5" x2="956.0" y2="398.5" stroke="#27425f" stroke-width="3.2" stroke-linecap="round"/><line x1="977.5" y1="420.5" x2="971.9" y2="391.5" stroke="#27425f" stroke-width="3.0" stroke-linecap="round"/><line x1="985.6" y1="416.5" x2="985.6" y2="386.0" stroke="#27425f" stroke-width="2.6" stroke-linecap="round"/><line x1="1014.2" y1="440.5" x2="1002.2" y2="418.5" stroke="#27425f" stroke-width="3.2" stroke-linecap="round"/><line x1="1023.8" y1="440.5" x2="1018.1" y2="411.5" stroke="#27425f" stroke-width="3.0" stroke-linecap="round"/><line x1="1031.8" y1="436.5" x2="1031.8" y2="406.0" stroke="#27425f" stroke-width="2.6" stroke-linecap="round"/><line x1="1060.5" y1="460.5" x2="1048.5" y2="438.5" stroke="#27425f" stroke-width="3.2" stroke-linecap="round"/><line x1="1070.0" y1="460.5" x2="1064.4" y2="431.5" stroke="#27425f" stroke-width="3.0" stroke-linecap="round"/><line x1="1078.1" y1="456.5" x2="1078.1" y2="426.0" stroke="#27425f" stroke-width="2.6" stroke-linecap="round"/><line x1="829.2" y1="407.2" x2="817.2" y2="385.2" stroke="#27425f" stroke-width="3.2" stroke-linecap="round"/><line x1="838.8" y1="407.2" x2="833.1" y2="378.2" stroke="#27425f" stroke-width="3.0" stroke-linecap="round"/><line x1="846.9" y1="403.2" x2="846.9" y2="372.7" stroke="#27425f" stroke-width="2.6" stroke-linecap="round"/><line x1="875.5" y1="427.2" x2="863.5" y2="405.2" stroke="#27425f" stroke-width="3.2" stroke-linecap="round"/><line x1="885.0" y1="427.2" x2="879.4" y2="398.2" stroke="#27425f" stroke-width="3.0" stroke-linecap="round"/><line x1="893.1" y1="423.2" x2="893.1" y2="392.7" stroke="#27425f" stroke-width="2.6" stroke-linecap="round"/><line x1="921.8" y1="447.2" x2="909.8" y2="425.2" stroke="#27425f" stroke-width="3.2" stroke-linecap="round"/><line x1="931.2" y1="447.2" x2="925.6" y2="418.2" stroke="#27425f" stroke-width="3.0" stroke-linecap="round"/><line x1="939.4" y1="443.2" x2="939.4" y2="412.7" stroke="#27425f" stroke-width="2.6" stroke-linecap="round"/><line x1="968.0" y1="467.2" x2="956.0" y2="445.2" stroke="#27425f" stroke-width="3.2" stroke-linecap="round"/><line x1="977.5" y1="467.2" x2="971.9" y2="438.2" stroke="#27425f" stroke-width="3.0" stroke-linecap="round"/><line x1="985.6" y1="463.2" x2="985.6" y2="432.7" stroke="#27425f" stroke-width="2.6" stroke-linecap="round"/><line x1="1014.2" y1="487.1" x2="1002.2" y2="465.1" stroke="#27425f" stroke-width="3.2" stroke-linecap="round"/><line x1="1023.8" y1="487.1" x2="1018.1" y2="458.1" stroke="#27425f" stroke-width="3.0" stroke-linecap="round"/><line x1="1031.8" y1="483.1" x2="1031.8" y2="452.6" stroke="#27425f" stroke-width="2.6" stroke-linecap="round"/><line x1="1060.5" y1="507.1" x2="1048.5" y2="485.1" stroke="#27425f" stroke-width="3.2" stroke-linecap="round"/><line x1="1070.0" y1="507.1" x2="1064.4" y2="478.1" stroke="#27425f" stroke-width="3.0" stroke-linecap="round"/><line x1="1078.1" y1="503.1" x2="1078.1" y2="472.6" stroke="#27425f" stroke-width="2.6" stroke-linecap="round"/><line x1="829.2" y1="453.9" x2="817.2" y2="431.9" stroke="#27425f" stroke-width="3.2" stroke-linecap="round"/><line x1="838.8" y1="453.9" x2="833.1" y2="424.9" stroke="#27425f" stroke-width="3.0" stroke-linecap="round"/><line x1="846.9" y1="449.9" x2="846.9" y2="419.4" stroke="#27425f" stroke-width="2.6" stroke-linecap="round"/><line x1="875.5" y1="473.8" x2="863.5" y2="451.8" stroke="#27425f" stroke-width="3.2" stroke-linecap="round"/><line x1="885.0" y1="473.8" x2="879.4" y2="444.8" stroke="#27425f" stroke-width="3.0" stroke-linecap="round"/><line x1="893.1" y1="469.8" x2="893.1" y2="439.3" stroke="#27425f" stroke-width="2.6" stroke-linecap="round"/><line x1="921.8" y1="493.8" x2="909.8" y2="471.8" stroke="#27425f" stroke-width="3.2" stroke-linecap="round"/><line x1="931.2" y1="493.8" x2="925.6" y2="464.8" stroke="#27425f" stroke-width="3.0" stroke-linecap="round"/><line x1="939.4" y1="489.8" x2="939.4" y2="459.3" stroke="#27425f" stroke-width="2.6" stroke-linecap="round"/><line x1="968.0" y1="513.8" x2="956.0" y2="491.8" stroke="#27425f" stroke-width="3.2" stroke-linecap="round"/><line x1="977.5" y1="513.8" x2="971.9" y2="484.8" stroke="#27425f" stroke-width="3.0" stroke-linecap="round"/><line x1="985.6" y1="509.8" x2="985.6" y2="479.3" stroke="#27425f" stroke-width="2.6" stroke-linecap="round"/><line x1="1014.2" y1="533.8" x2="1002.2" y2="511.8" stroke="#27425f" stroke-width="3.2" stroke-linecap="round"/><line x1="1023.8" y1="533.8" x2="1018.1" y2="504.8" stroke="#27425f" stroke-width="3.0" stroke-linecap="round"/><line x1="1031.8" y1="529.8" x2="1031.8" y2="499.3" stroke="#27425f" stroke-width="2.6" stroke-linecap="round"/><line x1="1060.5" y1="553.8" x2="1048.5" y2="531.8" stroke="#27425f" stroke-width="3.2" stroke-linecap="round"/><line x1="1070.0" y1="553.8" x2="1064.4" y2="524.8" stroke="#27425f" stroke-width="3.0" stroke-linecap="round"/><line x1="1078.1" y1="549.8" x2="1078.1" y2="519.3" stroke="#27425f" stroke-width="2.6" stroke-linecap="round"/></g>
<g clip-path="url(#lcts)" opacity="0.72"><line x1="829.2" y1="314.0" x2="817.2" y2="292.0" stroke="#27425f" stroke-width="3.2" stroke-linecap="round"/><line x1="838.8" y1="314.0" x2="833.1" y2="285.0" stroke="#27425f" stroke-width="3.0" stroke-linecap="round"/><line x1="846.9" y1="310.0" x2="846.9" y2="279.5" stroke="#27425f" stroke-width="2.6" stroke-linecap="round"/><line x1="875.5" y1="334.0" x2="863.5" y2="312.0" stroke="#27425f" stroke-width="3.2" stroke-linecap="round"/><line x1="885.0" y1="334.0" x2="879.4" y2="305.0" stroke="#27425f" stroke-width="3.0" stroke-linecap="round"/><line x1="893.1" y1="330.0" x2="893.1" y2="299.5" stroke="#27425f" stroke-width="2.6" stroke-linecap="round"/><line x1="921.8" y1="353.9" x2="909.8" y2="331.9" stroke="#27425f" stroke-width="3.2" stroke-linecap="round"/><line x1="931.2" y1="353.9" x2="925.6" y2="324.9" stroke="#27425f" stroke-width="3.0" stroke-linecap="round"/><line x1="939.4" y1="349.9" x2="939.4" y2="319.4" stroke="#27425f" stroke-width="2.6" stroke-linecap="round"/><line x1="968.0" y1="373.9" x2="956.0" y2="351.9" stroke="#27425f" stroke-width="3.2" stroke-linecap="round"/><line x1="977.5" y1="373.9" x2="971.9" y2="344.9" stroke="#27425f" stroke-width="3.0" stroke-linecap="round"/><line x1="985.6" y1="369.9" x2="985.6" y2="339.4" stroke="#27425f" stroke-width="2.6" stroke-linecap="round"/><line x1="1014.2" y1="393.9" x2="1002.2" y2="371.9" stroke="#27425f" stroke-width="3.2" stroke-linecap="round"/><line x1="1023.8" y1="393.9" x2="1018.1" y2="364.9" stroke="#27425f" stroke-width="3.0" stroke-linecap="round"/><line x1="1031.8" y1="389.9" x2="1031.8" y2="359.4" stroke="#27425f" stroke-width="2.6" stroke-linecap="round"/><line x1="1060.5" y1="413.9" x2="1048.5" y2="391.9" stroke="#27425f" stroke-width="3.2" stroke-linecap="round"/><line x1="1070.0" y1="413.9" x2="1064.4" y2="384.9" stroke="#27425f" stroke-width="3.0" stroke-linecap="round"/><line x1="1078.1" y1="409.9" x2="1078.1" y2="379.4" stroke="#27425f" stroke-width="2.6" stroke-linecap="round"/><line x1="829.2" y1="360.6" x2="817.2" y2="338.6" stroke="#27425f" stroke-width="3.2" stroke-linecap="round"/><line x1="838.8" y1="360.6" x2="833.1" y2="331.6" stroke="#27425f" stroke-width="3.0" stroke-linecap="round"/><line x1="846.9" y1="356.6" x2="846.9" y2="326.1" stroke="#27425f" stroke-width="2.6" stroke-linecap="round"/><line x1="875.5" y1="380.6" x2="863.5" y2="358.6" stroke="#27425f" stroke-width="3.2" stroke-linecap="round"/><line x1="885.0" y1="380.6" x2="879.4" y2="351.6" stroke="#27425f" stroke-width="3.0" stroke-linecap="round"/><line x1="893.1" y1="376.6" x2="893.1" y2="346.1" stroke="#27425f" stroke-width="2.6" stroke-linecap="round"/><line x1="921.8" y1="400.6" x2="909.8" y2="378.6" stroke="#27425f" stroke-width="3.2" stroke-linecap="round"/><line x1="931.2" y1="400.6" x2="925.6" y2="371.6" stroke="#27425f" stroke-width="3.0" stroke-linecap="round"/><line x1="939.4" y1="396.6" x2="939.4" y2="366.1" stroke="#27425f" stroke-width="2.6" stroke-linecap="round"/><line x1="968.0" y1="420.5" x2="956.0" y2="398.5" stroke="#27425f" stroke-width="3.2" stroke-linecap="round"/><line x1="977.5" y1="420.5" x2="971.9" y2="391.5" stroke="#27425f" stroke-width="3.0" stroke-linecap="round"/><line x1="985.6" y1="416.5" x2="985.6" y2="386.0" stroke="#27425f" stroke-width="2.6" stroke-linecap="round"/><line x1="1014.2" y1="440.5" x2="1002.2" y2="418.5" stroke="#27425f" stroke-width="3.2" stroke-linecap="round"/><line x1="1023.8" y1="440.5" x2="1018.1" y2="411.5" stroke="#27425f" stroke-width="3.0" stroke-linecap="round"/><line x1="1031.8" y1="436.5" x2="1031.8" y2="406.0" stroke="#27425f" stroke-width="2.6" stroke-linecap="round"/><line x1="1060.5" y1="460.5" x2="1048.5" y2="438.5" stroke="#27425f" stroke-width="3.2" stroke-linecap="round"/><line x1="1070.0" y1="460.5" x2="1064.4" y2="431.5" stroke="#27425f" stroke-width="3.0" stroke-linecap="round"/><line x1="1078.1" y1="456.5" x2="1078.1" y2="426.0" stroke="#27425f" stroke-width="2.6" stroke-linecap="round"/><line x1="829.2" y1="407.2" x2="817.2" y2="385.2" stroke="#27425f" stroke-width="3.2" stroke-linecap="round"/><line x1="838.8" y1="407.2" x2="833.1" y2="378.2" stroke="#27425f" stroke-width="3.0" stroke-linecap="round"/><line x1="846.9" y1="403.2" x2="846.9" y2="372.7" stroke="#27425f" stroke-width="2.6" stroke-linecap="round"/><line x1="875.5" y1="427.2" x2="863.5" y2="405.2" stroke="#27425f" stroke-width="3.2" stroke-linecap="round"/><line x1="885.0" y1="427.2" x2="879.4" y2="398.2" stroke="#27425f" stroke-width="3.0" stroke-linecap="round"/><line x1="893.1" y1="423.2" x2="893.1" y2="392.7" stroke="#27425f" stroke-width="2.6" stroke-linecap="round"/><line x1="921.8" y1="447.2" x2="909.8" y2="425.2" stroke="#27425f" stroke-width="3.2" stroke-linecap="round"/><line x1="931.2" y1="447.2" x2="925.6" y2="418.2" stroke="#27425f" stroke-width="3.0" stroke-linecap="round"/><line x1="939.4" y1="443.2" x2="939.4" y2="412.7" stroke="#27425f" stroke-width="2.6" stroke-linecap="round"/><line x1="968.0" y1="467.2" x2="956.0" y2="445.2" stroke="#27425f" stroke-width="3.2" stroke-linecap="round"/><line x1="977.5" y1="467.2" x2="971.9" y2="438.2" stroke="#27425f" stroke-width="3.0" stroke-linecap="round"/><line x1="985.6" y1="463.2" x2="985.6" y2="432.7" stroke="#27425f" stroke-width="2.6" stroke-linecap="round"/><line x1="1014.2" y1="487.1" x2="1002.2" y2="465.1" stroke="#27425f" stroke-width="3.2" stroke-linecap="round"/><line x1="1023.8" y1="487.1" x2="1018.1" y2="458.1" stroke="#27425f" stroke-width="3.0" stroke-linecap="round"/><line x1="1031.8" y1="483.1" x2="1031.8" y2="452.6" stroke="#27425f" stroke-width="2.6" stroke-linecap="round"/><line x1="1060.5" y1="507.1" x2="1048.5" y2="485.1" stroke="#27425f" stroke-width="3.2" stroke-linecap="round"/><line x1="1070.0" y1="507.1" x2="1064.4" y2="478.1" stroke="#27425f" stroke-width="3.0" stroke-linecap="round"/><line x1="1078.1" y1="503.1" x2="1078.1" y2="472.6" stroke="#27425f" stroke-width="2.6" stroke-linecap="round"/><line x1="829.2" y1="453.9" x2="817.2" y2="431.9" stroke="#27425f" stroke-width="3.2" stroke-linecap="round"/><line x1="838.8" y1="453.9" x2="833.1" y2="424.9" stroke="#27425f" stroke-width="3.0" stroke-linecap="round"/><line x1="846.9" y1="449.9" x2="846.9" y2="419.4" stroke="#27425f" stroke-width="2.6" stroke-linecap="round"/><line x1="875.5" y1="473.8" x2="863.5" y2="451.8" stroke="#27425f" stroke-width="3.2" stroke-linecap="round"/><line x1="885.0" y1="473.8" x2="879.4" y2="444.8" stroke="#27425f" stroke-width="3.0" stroke-linecap="round"/><line x1="893.1" y1="469.8" x2="893.1" y2="439.3" stroke="#27425f" stroke-width="2.6" stroke-linecap="round"/><line x1="921.8" y1="493.8" x2="909.8" y2="471.8" stroke="#27425f" stroke-width="3.2" stroke-linecap="round"/><line x1="931.2" y1="493.8" x2="925.6" y2="464.8" stroke="#27425f" stroke-width="3.0" stroke-linecap="round"/><line x1="939.4" y1="489.8" x2="939.4" y2="459.3" stroke="#27425f" stroke-width="2.6" stroke-linecap="round"/><line x1="968.0" y1="513.8" x2="956.0" y2="491.8" stroke="#27425f" stroke-width="3.2" stroke-linecap="round"/><line x1="977.5" y1="513.8" x2="971.9" y2="484.8" stroke="#27425f" stroke-width="3.0" stroke-linecap="round"/><line x1="985.6" y1="509.8" x2="985.6" y2="479.3" stroke="#27425f" stroke-width="2.6" stroke-linecap="round"/><line x1="1014.2" y1="533.8" x2="1002.2" y2="511.8" stroke="#27425f" stroke-width="3.2" stroke-linecap="round"/><line x1="1023.8" y1="533.8" x2="1018.1" y2="504.8" stroke="#27425f" stroke-width="3.0" stroke-linecap="round"/><line x1="1031.8" y1="529.8" x2="1031.8" y2="499.3" stroke="#27425f" stroke-width="2.6" stroke-linecap="round"/><line x1="1060.5" y1="553.8" x2="1048.5" y2="531.8" stroke="#27425f" stroke-width="3.2" stroke-linecap="round"/><line x1="1070.0" y1="553.8" x2="1064.4" y2="524.8" stroke="#27425f" stroke-width="3.0" stroke-linecap="round"/><line x1="1078.1" y1="549.8" x2="1078.1" y2="519.3" stroke="#27425f" stroke-width="2.6" stroke-linecap="round"/></g>
<polyline points="785.0,286.0 1062.5,405.9 1062.5,592.4" fill="none" stroke="#c9ebfc" stroke-width="1.7"/>
<line x1="1062.5" y1="405.9" x2="1109.5" y2="378.9" stroke="#c9ebfc" stroke-width="1.7"/>
<polygon points="848.7,326.3 866.5,314.8 878.8,320.3 1104.3,188.2 1152.2,208.7 929.4,340.0 937.5,345.4 919.8,356.4 861.0,356.4" fill="#c9c272" stroke="#111" stroke-width="2.2" stroke-linejoin="round"/>
<polygon points="848.7,321.3 861.0,351.4 861.0,356.4 848.7,326.3" fill="#c9c272"/>
<polygon points="1152.2,203.7 929.4,335.0 929.4,340.0 1152.2,208.7" fill="#c9c272"/>
<polygon points="848.7,321.3 866.5,309.8 878.8,315.3 1104.3,183.2 1152.2,203.7 929.4,335.0 937.5,340.4 919.8,351.4 861.0,351.4" fill="#f6f2a4" stroke="#111" stroke-width="2.2" stroke-linejoin="round"/>
<polygon points="848.7,321.3 866.5,309.8 878.8,315.3 1104.3,183.2 1152.2,203.7 929.4,335.0 937.5,340.4 919.8,351.4 861.0,351.4" fill="#f6f2a4"/>
<polyline points="861.0,351.4 919.8,351.4 937.5,340.4" fill="none" stroke="#d8d184" stroke-width="1"/>
<text transform="matrix(0.797,-0.441,1.13,0.58,958.5,303.4)" font-size="36" fill="#111" stroke="#111" stroke-width="0.7">Белый свет</text>
<polygon points="709.0,514.5 709.0,329.0 717.0,323.5 997.0,444.5 997.0,630.0 989.0,635.5" fill="none" stroke="#fff" stroke-width="6" stroke-linejoin="round"/>
<polygon points="709.0,514.5 709.0,329.0 717.0,323.5 997.0,444.5 997.0,630.0 989.0,635.5" fill="#111" stroke="#111" stroke-width="2.2" stroke-linejoin="round"/>
<polygon points="709.0,329.0 717.0,323.5 997.0,444.5 989.0,450.0" fill="#666"/>
<polygon points="989.0,450.0 997.0,444.5 997.0,630.0 989.0,635.5" fill="#2a2a2a"/>
<g transform="matrix(1,0.432,0,1,709,329)"><rect width="280" height="185.5" fill="#111"/><rect x="4.8" y="3.2" width="11.0" height="41.0" fill="#ee1c25"/><rect x="4.8" y="47.7" width="11.0" height="43.0" fill="#ee1c25"/><rect x="4.8" y="94.2" width="11.0" height="43.0" fill="#ee1c25"/><rect x="4.8" y="140.7" width="11.0" height="41.6" fill="#ee1c25"/><rect x="20.0" y="3.2" width="11.0" height="41.0" fill="#2fb44a"/><rect x="20.0" y="47.7" width="11.0" height="43.0" fill="#2fb44a"/><rect x="20.0" y="94.2" width="11.0" height="43.0" fill="#2fb44a"/><rect x="20.0" y="140.7" width="11.0" height="41.6" fill="#2fb44a"/><rect x="35.2" y="3.2" width="11.0" height="41.0" fill="#27a3e3"/><rect x="35.2" y="47.7" width="11.0" height="43.0" fill="#27a3e3"/><rect x="35.2" y="94.2" width="11.0" height="43.0" fill="#27a3e3"/><rect x="35.2" y="140.7" width="11.0" height="41.6" fill="#27a3e3"/><rect x="50.4" y="3.2" width="11.0" height="41.0" fill="#ee1c25"/><rect x="50.4" y="47.7" width="11.0" height="43.0" fill="#ee1c25"/><rect x="50.4" y="94.2" width="11.0" height="43.0" fill="#ee1c25"/><rect x="50.4" y="140.7" width="11.0" height="41.6" fill="#ee1c25"/><rect x="65.6" y="3.2" width="11.0" height="41.0" fill="#2fb44a"/><rect x="65.6" y="47.7" width="11.0" height="43.0" fill="#2fb44a"/><rect x="65.6" y="94.2" width="11.0" height="43.0" fill="#2fb44a"/><rect x="65.6" y="140.7" width="11.0" height="41.6" fill="#2fb44a"/><rect x="80.8" y="3.2" width="11.0" height="41.0" fill="#27a3e3"/><rect x="80.8" y="47.7" width="11.0" height="43.0" fill="#27a3e3"/><rect x="80.8" y="94.2" width="11.0" height="43.0" fill="#27a3e3"/><rect x="80.8" y="140.7" width="11.0" height="41.6" fill="#27a3e3"/><rect x="96.0" y="3.2" width="11.0" height="41.0" fill="#ee1c25"/><rect x="96.0" y="47.7" width="11.0" height="43.0" fill="#ee1c25"/><rect x="96.0" y="94.2" width="11.0" height="43.0" fill="#ee1c25"/><rect x="96.0" y="140.7" width="11.0" height="41.6" fill="#ee1c25"/><rect x="111.2" y="3.2" width="11.0" height="41.0" fill="#2fb44a"/><rect x="111.2" y="47.7" width="11.0" height="43.0" fill="#2fb44a"/><rect x="111.2" y="94.2" width="11.0" height="43.0" fill="#2fb44a"/><rect x="111.2" y="140.7" width="11.0" height="41.6" fill="#2fb44a"/><rect x="126.4" y="3.2" width="11.0" height="41.0" fill="#27a3e3"/><rect x="126.4" y="47.7" width="11.0" height="43.0" fill="#27a3e3"/><rect x="126.4" y="94.2" width="11.0" height="43.0" fill="#27a3e3"/><rect x="126.4" y="140.7" width="11.0" height="41.6" fill="#27a3e3"/><rect x="141.6" y="3.2" width="11.0" height="41.0" fill="#ee1c25"/><rect x="141.6" y="47.7" width="11.0" height="43.0" fill="#ee1c25"/><rect x="141.6" y="94.2" width="11.0" height="43.0" fill="#ee1c25"/><rect x="141.6" y="140.7" width="11.0" height="41.6" fill="#ee1c25"/><rect x="156.8" y="3.2" width="11.0" height="41.0" fill="#2fb44a"/><rect x="156.8" y="47.7" width="11.0" height="43.0" fill="#2fb44a"/><rect x="156.8" y="94.2" width="11.0" height="43.0" fill="#2fb44a"/><rect x="156.8" y="140.7" width="11.0" height="41.6" fill="#2fb44a"/><rect x="172.0" y="3.2" width="11.0" height="41.0" fill="#27a3e3"/><rect x="172.0" y="47.7" width="11.0" height="43.0" fill="#27a3e3"/><rect x="172.0" y="94.2" width="11.0" height="43.0" fill="#27a3e3"/><rect x="172.0" y="140.7" width="11.0" height="41.6" fill="#27a3e3"/><rect x="187.2" y="3.2" width="11.0" height="41.0" fill="#ee1c25"/><rect x="187.2" y="47.7" width="11.0" height="43.0" fill="#ee1c25"/><rect x="187.2" y="94.2" width="11.0" height="43.0" fill="#ee1c25"/><rect x="187.2" y="140.7" width="11.0" height="41.6" fill="#ee1c25"/><rect x="202.4" y="3.2" width="11.0" height="41.0" fill="#2fb44a"/><rect x="202.4" y="47.7" width="11.0" height="43.0" fill="#2fb44a"/><rect x="202.4" y="94.2" width="11.0" height="43.0" fill="#2fb44a"/><rect x="202.4" y="140.7" width="11.0" height="41.6" fill="#2fb44a"/><rect x="217.6" y="3.2" width="11.0" height="41.0" fill="#27a3e3"/><rect x="217.6" y="47.7" width="11.0" height="43.0" fill="#27a3e3"/><rect x="217.6" y="94.2" width="11.0" height="43.0" fill="#27a3e3"/><rect x="217.6" y="140.7" width="11.0" height="41.6" fill="#27a3e3"/><rect x="232.8" y="3.2" width="11.0" height="41.0" fill="#ee1c25"/><rect x="232.8" y="47.7" width="11.0" height="43.0" fill="#ee1c25"/><rect x="232.8" y="94.2" width="11.0" height="43.0" fill="#ee1c25"/><rect x="232.8" y="140.7" width="11.0" height="41.6" fill="#ee1c25"/><rect x="248.0" y="3.2" width="11.0" height="41.0" fill="#2fb44a"/><rect x="248.0" y="47.7" width="11.0" height="43.0" fill="#2fb44a"/><rect x="248.0" y="94.2" width="11.0" height="43.0" fill="#2fb44a"/><rect x="248.0" y="140.7" width="11.0" height="41.6" fill="#2fb44a"/><rect x="263.2" y="3.2" width="11.0" height="41.0" fill="#27a3e3"/><rect x="263.2" y="47.7" width="11.0" height="43.0" fill="#27a3e3"/><rect x="263.2" y="94.2" width="11.0" height="43.0" fill="#27a3e3"/><rect x="263.2" y="140.7" width="11.0" height="41.6" fill="#27a3e3"/><rect x="0.9" y="0" width="2.1" height="184.6" fill="#f4f4f4"/><rect x="0.9" y="182.9" width="278.2" height="1.7" fill="#f4f4f4"/></g>
<polygon points="709.0,514.5 709.0,329.0 717.0,323.5 997.0,444.5 997.0,630.0 989.0,635.5" fill="none" stroke="#111" stroke-width="1.7" stroke-linejoin="round"/>
<polyline points="710.5,328.5 717.3,324.4 996.5,445.4" fill="none" stroke="#f0f0f0" stroke-width="1.5"/>
<line x1="990" y1="449.96" x2="990" y2="635.46" stroke="#777" stroke-width="1.2"/>
<polygon points="635.0,556.5 635.0,370.0 644.0,364.0 921.5,483.9 921.5,670.4 912.5,676.4" fill="#eee" stroke="#111" stroke-width="2.2" stroke-linejoin="round"/>
<polygon points="635.0,370.0 644.0,364.0 921.5,483.9 912.5,489.9" fill="#e6e6e6"/>
<polygon points="912.5,489.9 921.5,483.9 921.5,670.4 912.5,676.4" fill="url(#sideGray)"/>
<g transform="matrix(1,0.432,0,1,635,370)"><rect width="277.5" height="186.5" fill="url(#hlines)"/><line x1="46.2" y1="0" x2="46.2" y2="186.5" stroke="#3a3a3a" stroke-width="3.5"/><line x1="92.5" y1="0" x2="92.5" y2="186.5" stroke="#3a3a3a" stroke-width="3.5"/><line x1="138.8" y1="0" x2="138.8" y2="186.5" stroke="#3a3a3a" stroke-width="3.5"/><line x1="185.0" y1="0" x2="185.0" y2="186.5" stroke="#3a3a3a" stroke-width="3.5"/><line x1="231.2" y1="0" x2="231.2" y2="186.5" stroke="#3a3a3a" stroke-width="3.5"/><line x1="0" y1="46.6" x2="277.5" y2="46.6" stroke="#3a3a3a" stroke-width="3.8"/><line x1="0" y1="93.2" x2="277.5" y2="93.2" stroke="#3a3a3a" stroke-width="3.8"/><line x1="0" y1="139.9" x2="277.5" y2="139.9" stroke="#3a3a3a" stroke-width="3.8"/><rect width="277.5" height="186.5" fill="none" stroke="#f2f2f2" stroke-width="2.5"/></g>
<polygon points="635.0,556.5 635.0,370.0 644.0,364.0 921.5,483.9 921.5,670.4 912.5,676.4" fill="none" stroke="#111" stroke-width="2" stroke-linejoin="round"/>
<polygon points="691.1,423.6 706.7,414.7 721.6,419.7 778.6,385.3 826.3,405.9 770.0,440.0 779.4,445.5 762.2,454.8 700.5,454.0" fill="#3a3a3a" stroke="#111" stroke-width="2.4" stroke-linejoin="round"/>
<polygon points="691.1,418.6 700.5,449.0 700.5,454.0 691.1,423.6" fill="#3a3a3a" stroke="#111" stroke-width="1"/>
<polygon points="826.3,400.9 770.0,435.0 770.0,440.0 826.3,405.9" fill="#3a3a3a" stroke="#111" stroke-width="1"/>
<polygon points="779.4,440.5 762.2,449.8 762.2,454.8 779.4,445.5" fill="#3a3a3a" stroke="#111" stroke-width="1"/>
<polygon points="691.1,418.6 706.7,409.7 721.6,414.7 778.6,380.3 826.3,400.9 770.0,435.0 779.4,440.5 762.2,449.8 700.5,449.0" fill="#888" stroke="#111" stroke-width="2.4" stroke-linejoin="round"/>
<g clip-path="url(#raclip)"><polygon points="474.4,456.6 491.7,446.1 509.7,453.9 492.4,464.3" fill="#dfe022"/><polygon points="492.4,464.3 509.7,453.9 527.8,461.7 510.4,472.1" fill="#f08a1d"/><polygon points="510.4,472.1 527.7,461.7 545.7,469.4 528.4,479.9" fill="#ee1c25"/><polygon points="528.4,479.9 545.7,469.4 563.7,477.2 546.4,487.7" fill="#b83da6"/><polygon points="546.4,487.7 563.7,477.2 581.7,485.0 564.4,495.4" fill="#8e24ea"/><polygon points="564.4,495.4 581.7,485.0 599.7,492.8 582.4,503.2" fill="#27a3e3"/><polygon points="582.4,503.2 599.7,492.8 617.7,500.6 600.4,511.0" fill="#2fb44a"/><polygon points="600.4,511.0 617.7,500.6 635.7,508.3 618.4,518.8" fill="#dfe022"/><polygon points="618.4,518.8 635.7,508.3 653.7,516.1 636.4,526.6" fill="#f08a1d"/><polygon points="636.4,526.6 653.7,516.1 671.7,523.9 654.4,534.3" fill="#ee1c25"/><polygon points="654.4,534.4 671.7,523.9 689.7,531.7 672.4,542.1" fill="#b83da6"/><polygon points="672.4,542.1 689.7,531.7 707.7,539.5 690.4,549.9" fill="#8e24ea"/><polygon points="690.4,549.9 707.7,539.5 725.7,547.2 708.4,557.7" fill="#27a3e3"/><polygon points="708.4,557.7 725.7,547.2 743.7,555.0 726.4,565.5" fill="#2fb44a"/><polygon points="726.4,565.5 743.7,555.0 761.7,562.8 744.4,573.2" fill="#dfe022"/><polygon points="491.8,446.1 509.1,435.7 527.0,443.4 509.8,453.9" fill="#2fb44a"/><polygon points="509.8,453.9 527.0,443.4 545.0,451.2 527.8,461.7" fill="#dfe022"/><polygon points="527.8,461.7 545.0,451.2 563.0,459.0 545.8,469.4" fill="#f08a1d"/><polygon points="545.8,469.4 563.0,459.0 581.0,466.8 563.8,477.2" fill="#ee1c25"/><polygon points="563.8,477.2 581.0,466.8 599.0,474.6 581.8,485.0" fill="#b83da6"/><polygon points="581.8,485.0 599.0,474.6 617.0,482.3 599.8,492.8" fill="#8e24ea"/><polygon points="599.8,492.8 617.0,482.4 635.0,490.1 617.8,500.6" fill="#27a3e3"/><polygon points="617.8,500.6 635.0,490.1 653.0,497.9 635.8,508.3" fill="#2fb44a"/><polygon points="635.8,508.3 653.0,497.9 671.0,505.7 653.8,516.1" fill="#dfe022"/><polygon points="653.8,516.1 671.0,505.7 689.0,513.5 671.8,523.9" fill="#f08a1d"/><polygon points="671.8,523.9 689.0,513.5 707.0,521.2 689.8,531.7" fill="#ee1c25"/><polygon points="689.8,531.7 707.0,521.2 725.0,529.0 707.8,539.5" fill="#b83da6"/><polygon points="707.8,539.5 725.0,529.0 743.0,536.8 725.8,547.2" fill="#8e24ea"/><polygon points="725.8,547.2 743.0,536.8 761.0,544.6 743.8,555.0" fill="#27a3e3"/><polygon points="743.8,555.0 761.0,544.6 779.0,552.4 761.8,562.8" fill="#2fb44a"/><polygon points="509.0,435.7 526.3,425.2 544.3,433.0 527.0,443.4" fill="#27a3e3"/><polygon points="527.0,443.4 544.3,433.0 562.3,440.8 545.0,451.2" fill="#2fb44a"/><polygon points="545.0,451.2 562.3,440.8 580.3,448.6 563.0,459.0" fill="#dfe022"/><polygon points="563.0,459.0 580.3,448.6 598.3,456.3 581.0,466.8" fill="#f08a1d"/><polygon points="581.0,466.8 598.3,456.4 616.3,464.1 599.0,474.6" fill="#ee1c25"/><polygon points="599.0,474.6 616.3,464.1 634.3,471.9 617.0,482.3" fill="#b83da6"/><polygon points="617.0,482.4 634.3,471.9 652.3,479.7 635.0,490.1" fill="#8e24ea"/><polygon points="635.0,490.1 652.3,479.7 670.3,487.5 653.0,497.9" fill="#27a3e3"/><polygon points="653.0,497.9 670.3,487.5 688.3,495.2 671.0,505.7" fill="#2fb44a"/><polygon points="671.0,505.7 688.3,495.2 706.3,503.0 689.0,513.5" fill="#dfe022"/><polygon points="689.0,513.5 706.3,503.0 724.3,510.8 707.0,521.2" fill="#f08a1d"/><polygon points="707.0,521.2 724.3,510.8 742.3,518.6 725.0,529.0" fill="#ee1c25"/><polygon points="725.0,529.0 742.3,518.6 760.3,526.4 743.0,536.8" fill="#b83da6"/><polygon points="743.0,536.8 760.3,526.4 778.3,534.1 761.0,544.6" fill="#8e24ea"/><polygon points="761.0,544.6 778.3,534.1 796.3,541.9 779.0,552.4" fill="#27a3e3"/><polygon points="526.3,425.2 543.6,414.8 561.6,422.6 544.3,433.0" fill="#8e24ea"/><polygon points="544.3,433.0 561.6,422.6 579.6,430.3 562.3,440.8" fill="#27a3e3"/><polygon points="562.3,440.8 579.6,430.4 597.6,438.1 580.3,448.6" fill="#2fb44a"/><polygon points="580.3,448.6 597.6,438.1 615.6,445.9 598.3,456.3" fill="#dfe022"/><polygon points="598.3,456.4 615.6,445.9 633.6,453.7 616.3,464.1" fill="#f08a1d"/><polygon points="616.3,464.1 633.6,453.7 651.6,461.5 634.3,471.9" fill="#ee1c25"/><polygon points="634.3,471.9 651.6,461.5 669.6,469.2 652.3,479.7" fill="#b83da6"/><polygon points="652.3,479.7 669.6,469.2 687.6,477.0 670.3,487.5" fill="#8e24ea"/><polygon points="670.3,487.5 687.6,477.0 705.6,484.8 688.3,495.2" fill="#27a3e3"/><polygon points="688.3,495.2 705.6,484.8 723.6,492.6 706.3,503.0" fill="#2fb44a"/><polygon points="706.3,503.0 723.6,492.6 741.6,500.4 724.3,510.8" fill="#dfe022"/><polygon points="724.3,510.8 741.6,500.4 759.6,508.1 742.3,518.6" fill="#f08a1d"/><polygon points="742.3,518.6 759.6,508.2 777.6,515.9 760.3,526.4" fill="#ee1c25"/><polygon points="760.3,526.4 777.6,515.9 795.6,523.7 778.3,534.1" fill="#b83da6"/><polygon points="778.3,534.1 795.6,523.7 813.6,531.5 796.3,541.9" fill="#8e24ea"/><polygon points="543.6,414.8 560.9,404.4 578.9,412.1 561.6,422.6" fill="#b83da6"/><polygon points="561.6,422.6 578.9,412.1 596.9,419.9 579.6,430.3" fill="#8e24ea"/><polygon points="579.6,430.4 596.9,419.9 614.9,427.7 597.6,438.1" fill="#27a3e3"/><polygon points="597.6,438.1 614.9,427.7 632.9,435.5 615.6,445.9" fill="#2fb44a"/><polygon points="615.6,445.9 632.9,435.5 650.9,443.2 633.6,453.7" fill="#dfe022"/><polygon points="633.6,453.7 650.9,443.2 668.9,451.0 651.6,461.5" fill="#f08a1d"/><polygon points="651.6,461.5 668.9,451.0 686.9,458.8 669.6,469.2" fill="#ee1c25"/><polygon points="669.6,469.2 686.9,458.8 704.9,466.6 687.6,477.0" fill="#b83da6"/><polygon points="687.6,477.0 704.9,466.6 722.9,474.4 705.6,484.8" fill="#8e24ea"/><polygon points="705.6,484.8 722.9,474.4 740.9,482.1 723.6,492.6" fill="#27a3e3"/><polygon points="723.6,492.6 740.9,482.1 758.9,489.9 741.6,500.4" fill="#2fb44a"/><polygon points="741.6,500.4 758.9,489.9 776.9,497.7 759.6,508.1" fill="#dfe022"/><polygon points="759.6,508.1 776.9,497.7 794.9,505.5 777.6,515.9" fill="#f08a1d"/><polygon points="777.6,515.9 794.9,505.5 812.9,513.3 795.6,523.7" fill="#ee1c25"/><polygon points="795.6,523.7 812.9,513.3 830.9,521.0 813.6,531.5" fill="#b83da6"/><polygon points="560.9,404.4 578.2,393.9 596.2,401.7 578.9,412.1" fill="#ee1c25"/><polygon points="578.9,412.1 596.2,401.7 614.2,409.5 596.9,419.9" fill="#b83da6"/><polygon points="596.9,419.9 614.2,409.5 632.2,417.2 614.9,427.7" fill="#8e24ea"/><polygon points="614.9,427.7 632.2,417.2 650.2,425.0 632.9,435.5" fill="#27a3e3"/><polygon points="632.9,435.5 650.2,425.0 668.2,432.8 650.9,443.2" fill="#2fb44a"/><polygon points="650.9,443.2 668.2,432.8 686.2,440.6 668.9,451.0" fill="#dfe022"/><polygon points="668.9,451.0 686.2,440.6 704.2,448.4 686.9,458.8" fill="#f08a1d"/><polygon points="686.9,458.8 704.2,448.4 722.2,456.1 704.9,466.6" fill="#ee1c25"/><polygon points="704.9,466.6 722.2,456.1 740.2,463.9 722.9,474.4" fill="#b83da6"/><polygon points="722.9,474.4 740.2,463.9 758.2,471.7 740.9,482.1" fill="#8e24ea"/><polygon points="740.9,482.1 758.2,471.7 776.2,479.5 758.9,489.9" fill="#27a3e3"/><polygon points="758.9,489.9 776.2,479.5 794.2,487.3 776.9,497.7" fill="#2fb44a"/><polygon points="776.9,497.7 794.2,487.3 812.2,495.0 794.9,505.5" fill="#dfe022"/><polygon points="794.9,505.5 812.2,495.1 830.2,502.8 812.9,513.3" fill="#f08a1d"/><polygon points="812.9,513.3 830.2,502.8 848.2,510.6 830.9,521.0" fill="#ee1c25"/><polygon points="578.2,393.9 595.5,383.5 613.5,391.2 596.2,401.7" fill="#f08a1d"/><polygon points="596.2,401.7 613.5,391.2 631.5,399.0 614.2,409.5" fill="#ee1c25"/><polygon points="614.2,409.5 631.5,399.0 649.5,406.8 632.2,417.2" fill="#b83da6"/><polygon points="632.2,417.2 649.5,406.8 667.5,414.6 650.2,425.0" fill="#8e24ea"/><polygon points="650.2,425.0 667.5,414.6 685.5,422.4 668.2,432.8" fill="#27a3e3"/><polygon points="668.2,432.8 685.5,422.4 703.5,430.1 686.2,440.6" fill="#2fb44a"/><polygon points="686.2,440.6 703.5,430.2 721.5,437.9 704.2,448.4" fill="#dfe022"/><polygon points="704.2,448.4 721.5,437.9 739.5,445.7 722.2,456.1" fill="#f08a1d"/><polygon points="722.2,456.1 739.5,445.7 757.5,453.5 740.2,463.9" fill="#ee1c25"/><polygon points="740.2,463.9 757.5,453.5 775.5,461.3 758.2,471.7" fill="#b83da6"/><polygon points="758.2,471.7 775.5,461.3 793.5,469.0 776.2,479.5" fill="#8e24ea"/><polygon points="776.2,479.5 793.5,469.1 811.5,476.8 794.2,487.3" fill="#27a3e3"/><polygon points="794.2,487.3 811.5,476.8 829.5,484.6 812.2,495.0" fill="#2fb44a"/><polygon points="812.2,495.1 829.5,484.6 847.5,492.4 830.2,502.8" fill="#dfe022"/><polygon points="830.2,502.8 847.5,492.4 865.5,500.2 848.2,510.6" fill="#f08a1d"/><polygon points="595.5,383.5 612.8,373.0 630.8,380.8 613.5,391.2" fill="#dfe022"/><polygon points="613.5,391.2 630.8,380.8 648.8,388.6 631.5,399.0" fill="#f08a1d"/><polygon points="631.5,399.0 648.8,388.6 666.8,396.4 649.5,406.8" fill="#ee1c25"/><polygon points="649.5,406.8 666.8,396.4 684.8,404.1 667.5,414.6" fill="#b83da6"/><polygon points="667.5,414.6 684.8,404.2 702.8,411.9 685.5,422.4" fill="#8e24ea"/><polygon points="685.5,422.4 702.8,411.9 720.8,419.7 703.5,430.1" fill="#27a3e3"/><polygon points="703.5,430.2 720.8,419.7 738.8,427.5 721.5,437.9" fill="#2fb44a"/><polygon points="721.5,437.9 738.8,427.5 756.8,435.3 739.5,445.7" fill="#dfe022"/><polygon points="739.5,445.7 756.8,435.3 774.8,443.0 757.5,453.5" fill="#f08a1d"/><polygon points="757.5,453.5 774.8,443.1 792.8,450.8 775.5,461.3" fill="#ee1c25"/><polygon points="775.5,461.3 792.8,450.8 810.8,458.6 793.5,469.0" fill="#b83da6"/><polygon points="793.5,469.1 810.8,458.6 828.8,466.4 811.5,476.8" fill="#8e24ea"/><polygon points="811.5,476.8 828.8,466.4 846.8,474.2 829.5,484.6" fill="#27a3e3"/><polygon points="829.5,484.6 846.8,474.2 864.8,481.9 847.5,492.4" fill="#2fb44a"/><polygon points="847.5,492.4 864.8,481.9 882.8,489.7 865.5,500.2" fill="#dfe022"/><polygon points="612.8,373.0 630.1,362.6 648.1,370.4 630.8,380.8" fill="#2fb44a"/><polygon points="630.8,380.8 648.1,370.4 666.1,378.1 648.8,388.6" fill="#dfe022"/><polygon points="648.8,388.6 666.1,378.2 684.1,385.9 666.8,396.4" fill="#f08a1d"/><polygon points="666.8,396.4 684.1,385.9 702.1,393.7 684.8,404.1" fill="#ee1c25"/><polygon points="684.8,404.2 702.1,393.7 720.1,401.5 702.8,411.9" fill="#b83da6"/><polygon points="702.8,411.9 720.1,401.5 738.1,409.3 720.8,419.7" fill="#8e24ea"/><polygon points="720.8,419.7 738.1,409.3 756.1,417.1 738.8,427.5" fill="#27a3e3"/><polygon points="738.8,427.5 756.1,417.1 774.1,424.8 756.8,435.3" fill="#2fb44a"/><polygon points="756.8,435.3 774.1,424.8 792.1,432.6 774.8,443.0" fill="#dfe022"/><polygon points="774.8,443.1 792.1,432.6 810.1,440.4 792.8,450.8" fill="#f08a1d"/><polygon points="792.8,450.8 810.1,440.4 828.1,448.2 810.8,458.6" fill="#ee1c25"/><polygon points="810.8,458.6 828.1,448.2 846.1,455.9 828.8,466.4" fill="#b83da6"/><polygon points="828.8,466.4 846.1,455.9 864.1,463.7 846.8,474.2" fill="#8e24ea"/><polygon points="846.8,474.2 864.1,463.7 882.1,471.5 864.8,481.9" fill="#27a3e3"/><polygon points="864.8,481.9 882.1,471.5 900.1,479.3 882.8,489.7" fill="#2fb44a"/><polygon points="630.1,362.6 647.4,352.2 665.4,359.9 648.1,370.4" fill="#27a3e3"/><polygon points="648.1,370.4 665.4,359.9 683.4,367.7 666.1,378.1" fill="#2fb44a"/><polygon points="666.1,378.2 683.4,367.7 701.4,375.5 684.1,385.9" fill="#dfe022"/><polygon points="684.1,385.9 701.4,375.5 719.4,383.3 702.1,393.7" fill="#f08a1d"/><polygon points="702.1,393.7 719.4,383.3 737.4,391.1 720.1,401.5" fill="#ee1c25"/><polygon points="720.1,401.5 737.4,391.1 755.4,398.8 738.1,409.3" fill="#b83da6"/><polygon points="738.1,409.3 755.4,398.8 773.4,406.6 756.1,417.1" fill="#8e24ea"/><polygon points="756.1,417.1 773.4,406.6 791.4,414.4 774.1,424.8" fill="#27a3e3"/><polygon points="774.1,424.8 791.4,414.4 809.4,422.2 792.1,432.6" fill="#2fb44a"/><polygon points="792.1,432.6 809.4,422.2 827.4,429.9 810.1,440.4" fill="#dfe022"/><polygon points="810.1,440.4 827.4,429.9 845.4,437.7 828.1,448.2" fill="#f08a1d"/><polygon points="828.1,448.2 845.4,437.7 863.4,445.5 846.1,455.9" fill="#ee1c25"/><polygon points="846.1,455.9 863.4,445.5 881.4,453.3 864.1,463.7" fill="#b83da6"/><polygon points="864.1,463.7 881.4,453.3 899.4,461.1 882.1,471.5" fill="#8e24ea"/><polygon points="882.1,471.5 899.4,461.1 917.4,468.8 900.1,479.3" fill="#27a3e3"/><polygon points="647.4,352.2 664.7,341.7 682.7,349.5 665.4,359.9" fill="#8e24ea"/><polygon points="665.4,359.9 682.7,349.5 700.7,357.3 683.4,367.7" fill="#27a3e3"/><polygon points="683.4,367.7 700.7,357.3 718.7,365.1 701.4,375.5" fill="#2fb44a"/><polygon points="701.4,375.5 718.7,365.1 736.7,372.8 719.4,383.3" fill="#dfe022"/><polygon points="719.4,383.3 736.7,372.8 754.7,380.6 737.4,391.1" fill="#f08a1d"/><polygon points="737.4,391.1 754.7,380.6 772.7,388.4 755.4,398.8" fill="#ee1c25"/><polygon points="755.4,398.8 772.7,388.4 790.7,396.2 773.4,406.6" fill="#b83da6"/><polygon points="773.4,406.6 790.7,396.2 808.7,403.9 791.4,414.4" fill="#8e24ea"/><polygon points="791.4,414.4 808.7,403.9 826.7,411.7 809.4,422.2" fill="#27a3e3"/><polygon points="809.4,422.2 826.7,411.7 844.7,419.5 827.4,429.9" fill="#2fb44a"/><polygon points="827.4,429.9 844.7,419.5 862.7,427.3 845.4,437.7" fill="#dfe022"/><polygon points="845.4,437.7 862.7,427.3 880.7,435.1 863.4,445.5" fill="#f08a1d"/><polygon points="863.4,445.5 880.7,435.1 898.7,442.8 881.4,453.3" fill="#ee1c25"/><polygon points="881.4,453.3 898.7,442.9 916.7,450.6 899.4,461.1" fill="#b83da6"/><polygon points="899.4,461.1 916.7,450.6 934.7,458.4 917.4,468.8" fill="#8e24ea"/><polygon points="664.8,341.7 682.0,331.3 700.0,339.1 682.8,349.5" fill="#b83da6"/><polygon points="682.8,349.5 700.0,339.1 718.0,346.8 700.8,357.3" fill="#8e24ea"/><polygon points="700.8,357.3 718.0,346.8 736.0,354.6 718.8,365.1" fill="#27a3e3"/><polygon points="718.8,365.1 736.0,354.6 754.0,362.4 736.8,372.8" fill="#2fb44a"/><polygon points="736.8,372.8 754.0,362.4 772.0,370.2 754.8,380.6" fill="#dfe022"/><polygon points="754.8,380.6 772.0,370.2 790.0,377.9 772.8,388.4" fill="#f08a1d"/><polygon points="772.8,388.4 790.0,378.0 808.0,385.7 790.8,396.2" fill="#ee1c25"/><polygon points="790.8,396.2 808.0,385.7 826.0,393.5 808.8,403.9" fill="#b83da6"/><polygon points="808.8,403.9 826.0,393.5 844.0,401.3 826.8,411.7" fill="#8e24ea"/><polygon points="826.8,411.7 844.0,401.3 862.0,409.1 844.8,419.5" fill="#27a3e3"/><polygon points="844.8,419.5 862.0,409.1 880.0,416.8 862.8,427.3" fill="#2fb44a"/><polygon points="862.8,427.3 880.0,416.9 898.0,424.6 880.8,435.1" fill="#dfe022"/><polygon points="880.8,435.1 898.0,424.6 916.0,432.4 898.8,442.8" fill="#f08a1d"/><polygon points="898.8,442.9 916.0,432.4 934.0,440.2 916.8,450.6" fill="#ee1c25"/><polygon points="916.8,450.6 934.0,440.2 952.0,448.0 934.8,458.4" fill="#b83da6"/><polygon points="682.0,331.3 699.3,320.8 717.3,328.6 700.0,339.1" fill="#ee1c25"/><polygon points="700.0,339.1 717.3,328.6 735.3,336.4 718.0,346.8" fill="#b83da6"/><polygon points="718.0,346.8 735.3,336.4 753.3,344.2 736.0,354.6" fill="#8e24ea"/><polygon points="736.0,354.6 753.3,344.2 771.3,351.9 754.0,362.4" fill="#27a3e3"/><polygon points="754.0,362.4 771.3,352.0 789.3,359.7 772.0,370.2" fill="#2fb44a"/><polygon points="772.0,370.2 789.3,359.7 807.3,367.5 790.0,377.9" fill="#dfe022"/><polygon points="790.0,378.0 807.3,367.5 825.3,375.3 808.0,385.7" fill="#f08a1d"/><polygon points="808.0,385.7 825.3,375.3 843.3,383.1 826.0,393.5" fill="#ee1c25"/><polygon points="826.0,393.5 843.3,383.1 861.3,390.8 844.0,401.3" fill="#b83da6"/><polygon points="844.0,401.3 861.3,390.9 879.3,398.6 862.0,409.1" fill="#8e24ea"/><polygon points="862.0,409.1 879.3,398.6 897.3,406.4 880.0,416.8" fill="#27a3e3"/><polygon points="880.0,416.9 897.3,406.4 915.3,414.2 898.0,424.6" fill="#2fb44a"/><polygon points="898.0,424.6 915.3,414.2 933.3,422.0 916.0,432.4" fill="#dfe022"/><polygon points="916.0,432.4 933.3,422.0 951.3,429.8 934.0,440.2" fill="#f08a1d"/><polygon points="934.0,440.2 951.3,429.8 969.3,437.5 952.0,448.0" fill="#ee1c25"/><polygon points="699.3,320.8 716.6,310.4 734.6,318.2 717.3,328.6" fill="#f08a1d"/><polygon points="717.3,328.6 734.6,318.2 752.6,325.9 735.3,336.4" fill="#ee1c25"/><polygon points="735.3,336.4 752.6,326.0 770.6,333.7 753.3,344.2" fill="#b83da6"/><polygon points="753.3,344.2 770.6,333.7 788.6,341.5 771.3,351.9" fill="#8e24ea"/><polygon points="771.3,352.0 788.6,341.5 806.6,349.3 789.3,359.7" fill="#27a3e3"/><polygon points="789.3,359.7 806.6,349.3 824.6,357.1 807.3,367.5" fill="#2fb44a"/><polygon points="807.3,367.5 824.6,357.1 842.6,364.9 825.3,375.3" fill="#dfe022"/><polygon points="825.3,375.3 842.6,364.9 860.6,372.6 843.3,383.1" fill="#f08a1d"/><polygon points="843.3,383.1 860.6,372.6 878.6,380.4 861.3,390.8" fill="#ee1c25"/><polygon points="861.3,390.9 878.6,380.4 896.6,388.2 879.3,398.6" fill="#b83da6"/><polygon points="879.3,398.6 896.6,388.2 914.6,396.0 897.3,406.4" fill="#8e24ea"/><polygon points="897.3,406.4 914.6,396.0 932.6,403.8 915.3,414.2" fill="#27a3e3"/><polygon points="915.3,414.2 932.6,403.8 950.6,411.5 933.3,422.0" fill="#2fb44a"/><polygon points="933.3,422.0 950.6,411.5 968.6,419.3 951.3,429.8" fill="#dfe022"/><polygon points="951.3,429.8 968.6,419.3 986.6,427.1 969.3,437.5" fill="#f08a1d"/><polygon points="716.6,310.4 733.9,300.0 751.9,307.7 734.6,318.2" fill="#dfe022"/><polygon points="734.6,318.2 751.9,307.7 769.9,315.5 752.6,325.9" fill="#f08a1d"/><polygon points="752.6,326.0 769.9,315.5 787.9,323.3 770.6,333.7" fill="#ee1c25"/><polygon points="770.6,333.7 787.9,323.3 805.9,331.1 788.6,341.5" fill="#b83da6"/><polygon points="788.6,341.5 805.9,331.1 823.9,338.9 806.6,349.3" fill="#8e24ea"/><polygon points="806.6,349.3 823.9,338.9 841.9,346.6 824.6,357.1" fill="#27a3e3"/><polygon points="824.6,357.1 841.9,346.6 859.9,354.4 842.6,364.9" fill="#2fb44a"/><polygon points="842.6,364.9 859.9,354.4 877.9,362.2 860.6,372.6" fill="#dfe022"/><polygon points="860.6,372.6 877.9,362.2 895.9,370.0 878.6,380.4" fill="#f08a1d"/><polygon points="878.6,380.4 895.9,370.0 913.9,377.8 896.6,388.2" fill="#ee1c25"/><polygon points="896.6,388.2 913.9,377.8 931.9,385.5 914.6,396.0" fill="#b83da6"/><polygon points="914.6,396.0 931.9,385.5 949.9,393.3 932.6,403.8" fill="#8e24ea"/><polygon points="932.6,403.8 949.9,393.3 967.9,401.1 950.6,411.5" fill="#27a3e3"/><polygon points="950.6,411.5 967.9,401.1 985.9,408.9 968.6,419.3" fill="#2fb44a"/><polygon points="968.6,419.3 985.9,408.9 1003.9,416.6 986.6,427.1" fill="#dfe022"/><polygon points="733.9,300.0 751.2,289.5 769.2,297.3 751.9,307.7" fill="#2fb44a"/><polygon points="751.9,307.7 769.2,297.3 787.2,305.1 769.9,315.5" fill="#dfe022"/><polygon points="769.9,315.5 787.2,305.1 805.2,312.9 787.9,323.3" fill="#f08a1d"/><polygon points="787.9,323.3 805.2,312.9 823.2,320.6 805.9,331.1" fill="#ee1c25"/><polygon points="805.9,331.1 823.2,320.6 841.2,328.4 823.9,338.9" fill="#b83da6"/><polygon points="823.9,338.9 841.2,328.4 859.2,336.2 841.9,346.6" fill="#8e24ea"/><polygon points="841.9,346.6 859.2,336.2 877.2,344.0 859.9,354.4" fill="#27a3e3"/><polygon points="859.9,354.4 877.2,344.0 895.2,351.8 877.9,362.2" fill="#2fb44a"/><polygon points="877.9,362.2 895.2,351.8 913.2,359.5 895.9,370.0" fill="#dfe022"/><polygon points="895.9,370.0 913.2,359.5 931.2,367.3 913.9,377.8" fill="#f08a1d"/><polygon points="913.9,377.8 931.2,367.3 949.2,375.1 931.9,385.5" fill="#ee1c25"/><polygon points="931.9,385.5 949.2,375.1 967.2,382.9 949.9,393.3" fill="#b83da6"/><polygon points="949.9,393.3 967.2,382.9 985.2,390.6 967.9,401.1" fill="#8e24ea"/><polygon points="967.9,401.1 985.2,390.7 1003.2,398.4 985.9,408.9" fill="#27a3e3"/><polygon points="985.9,408.9 1003.2,398.4 1021.2,406.2 1003.9,416.6" fill="#2fb44a"/><polygon points="751.2,289.5 768.5,279.1 786.5,286.9 769.2,297.3" fill="#27a3e3"/><polygon points="769.2,297.3 786.5,286.9 804.5,294.6 787.2,305.1" fill="#2fb44a"/><polygon points="787.2,305.1 804.5,294.6 822.5,302.4 805.2,312.9" fill="#dfe022"/><polygon points="805.2,312.9 822.5,302.4 840.5,310.2 823.2,320.6" fill="#f08a1d"/><polygon points="823.2,320.6 840.5,310.2 858.5,318.0 841.2,328.4" fill="#ee1c25"/><polygon points="841.2,328.4 858.5,318.0 876.5,325.8 859.2,336.2" fill="#b83da6"/><polygon points="859.2,336.2 876.5,325.8 894.5,333.5 877.2,344.0" fill="#8e24ea"/><polygon points="877.2,344.0 894.5,333.5 912.5,341.3 895.2,351.8" fill="#27a3e3"/><polygon points="895.2,351.8 912.5,341.3 930.5,349.1 913.2,359.5" fill="#2fb44a"/><polygon points="913.2,359.5 930.5,349.1 948.5,356.9 931.2,367.3" fill="#dfe022"/><polygon points="931.2,367.3 948.5,356.9 966.5,364.6 949.2,375.1" fill="#f08a1d"/><polygon points="949.2,375.1 966.5,364.7 984.5,372.4 967.2,382.9" fill="#ee1c25"/><polygon points="967.2,382.9 984.5,372.4 1002.5,380.2 985.2,390.6" fill="#b83da6"/><polygon points="985.2,390.7 1002.5,380.2 1020.5,388.0 1003.2,398.4" fill="#8e24ea"/><polygon points="1003.2,398.4 1020.5,388.0 1038.5,395.8 1021.2,406.2" fill="#27a3e3"/></g>
<polygon points="562.0,599.0 562.0,414.0 570.5,407.0 848.0,526.9 848.0,711.9 839.5,718.9" fill="#888" stroke="#111" stroke-width="2.2" stroke-linejoin="round"/>
<polygon points="562.0,414.0 570.5,407.0 848.0,526.9 839.5,533.9" fill="#dcdcdc"/>
<polygon points="839.5,533.9 848.0,526.9 848.0,711.9 839.5,718.9" fill="url(#sideGray)"/>
<g transform="matrix(1,0.432,0,1,562,414)"><rect x="0.00" y="0.00" width="46.65" height="46.65" fill="#8e24ea"/><rect x="46.25" y="0.00" width="46.65" height="46.65" fill="#27a3e3"/><rect x="92.50" y="0.00" width="46.65" height="46.65" fill="#2fb44a"/><rect x="138.75" y="0.00" width="46.65" height="46.65" fill="#dfe022"/><rect x="185.00" y="0.00" width="46.65" height="46.65" fill="#f08a1d"/><rect x="231.25" y="0.00" width="46.65" height="46.65" fill="#ee1c25"/><rect x="0.00" y="46.25" width="46.65" height="46.65" fill="#b83da6"/><rect x="46.25" y="46.25" width="46.65" height="46.65" fill="#8e24ea"/><rect x="92.50" y="46.25" width="46.65" height="46.65" fill="#27a3e3"/><rect x="138.75" y="46.25" width="46.65" height="46.65" fill="#2fb44a"/><rect x="185.00" y="46.25" width="46.65" height="46.65" fill="#dfe022"/><rect x="231.25" y="46.25" width="46.65" height="46.65" fill="#f08a1d"/><rect x="0.00" y="92.50" width="46.65" height="46.65" fill="#ee1c25"/><rect x="46.25" y="92.50" width="46.65" height="46.65" fill="#b83da6"/><rect x="92.50" y="92.50" width="46.65" height="46.65" fill="#8e24ea"/><rect x="138.75" y="92.50" width="46.65" height="46.65" fill="#27a3e3"/><rect x="185.00" y="92.50" width="46.65" height="46.65" fill="#2fb44a"/><rect x="231.25" y="92.50" width="46.65" height="46.65" fill="#dfe022"/><rect x="0.00" y="138.75" width="46.65" height="46.65" fill="#f08a1d"/><rect x="46.25" y="138.75" width="46.65" height="46.65" fill="#ee1c25"/><rect x="92.50" y="138.75" width="46.65" height="46.65" fill="#b83da6"/><rect x="138.75" y="138.75" width="46.65" height="46.65" fill="#8e24ea"/><rect x="185.00" y="138.75" width="46.65" height="46.65" fill="#27a3e3"/><rect x="231.25" y="138.75" width="46.65" height="46.65" fill="#2fb44a"/></g>
<polygon points="562.0,599.0 562.0,414.0 570.5,407.0 848.0,526.9 848.0,711.9 839.5,718.9" fill="none" stroke="#111" stroke-width="2" stroke-linejoin="round"/>
<g clip-path="url(#glclip)"><path d="M608,400 L608,567 L654,551 L700,540.6 L746,534.5 L792,532.5 L841,532.5 L841,400 Z" fill="url(#glare)"/></g>
<polyline points="1066.4,46.7 1139.8,46.7 1139.8,77.0" fill="none" stroke="#3a3a3a" stroke-width="1.5"/>
<text x="1007.78" y="37.9" font-size="38" fill="#0d0d0d" stroke="#0d0d0d" stroke-width="0.45" textLength="127.25" lengthAdjust="spacingAndGlyphs">Корпус</text>
<polyline points="780.0,153.3 1002.8,153.3 1002.8,186.0" fill="none" stroke="#3a3a3a" stroke-width="1.5"/>
<text x="670.77" y="139.7" font-size="38" fill="#0d0d0d" stroke="#0d0d0d" stroke-width="0.45" textLength="335.12" lengthAdjust="spacingAndGlyphs">Поляризационный</text>
<text x="774.01" y="186" font-size="38" fill="#0d0d0d" stroke="#0d0d0d" stroke-width="0.45" textLength="128.61" lengthAdjust="spacingAndGlyphs">фильтр</text>
<polyline points="645.5,238.3 853.4,238.3 853.4,268.0" fill="none" stroke="#3a3a3a" stroke-width="1.5"/>
<text x="502.50" y="226.4" font-size="38" fill="#0d0d0d" stroke="#0d0d0d" stroke-width="0.45" textLength="346.08" lengthAdjust="spacingAndGlyphs">Жидкие кристаллы</text>
<polyline points="436.9,343.4 661.9,343.4 661.9,373.0" fill="none" stroke="#3a3a3a" stroke-width="1.5"/>
<text x="322.82" y="331.6" font-size="38" fill="#0d0d0d" stroke="#0d0d0d" stroke-width="0.45" textLength="334.77" lengthAdjust="spacingAndGlyphs">Поляризационный</text>
<text x="426.11" y="377.2" font-size="38" fill="#0d0d0d" stroke="#0d0d0d" stroke-width="0.45" textLength="128.10" lengthAdjust="spacingAndGlyphs">фильтр</text>
<polyline points="822.8,714.0 822.8,758.1 1032.5,758.1" fill="none" stroke="#3a3a3a" stroke-width="1.5"/>
<text x="851.26" y="747.75" font-size="38" fill="#0d0d0d" stroke="#0d0d0d" stroke-width="0.45" textLength="125.11" lengthAdjust="spacingAndGlyphs">Стекло</text>
<polyline points="971.2,629.0 971.2,676.2 1169.0,676.2" fill="none" stroke="#3a3a3a" stroke-width="1.5"/>
<text x="985.46" y="666.3" font-size="38" fill="#0d0d0d" stroke="#0d0d0d" stroke-width="0.45" textLength="312.28" lengthAdjust="spacingAndGlyphs">Цветовой фильтр</text>
<polyline points="1159.2,526.0 1159.2,571.4 1238.7,571.4" fill="none" stroke="#3a3a3a" stroke-width="1.5"/>
<text x="1181.10" y="562.8" font-size="38" fill="#0d0d0d" stroke="#0d0d0d" stroke-width="0.45" textLength="66.00" lengthAdjust="spacingAndGlyphs">TFT</text>
<polyline points="1311.0,442.0 1311.0,486.6 1480.6,486.6" fill="none" stroke="#3a3a3a" stroke-width="1.5"/>
<text x="1339.41" y="473.75" font-size="38" fill="#0d0d0d" stroke="#0d0d0d" stroke-width="0.45" textLength="189.69" lengthAdjust="spacingAndGlyphs">Подсветка</text>
</svg>
</body></html>
